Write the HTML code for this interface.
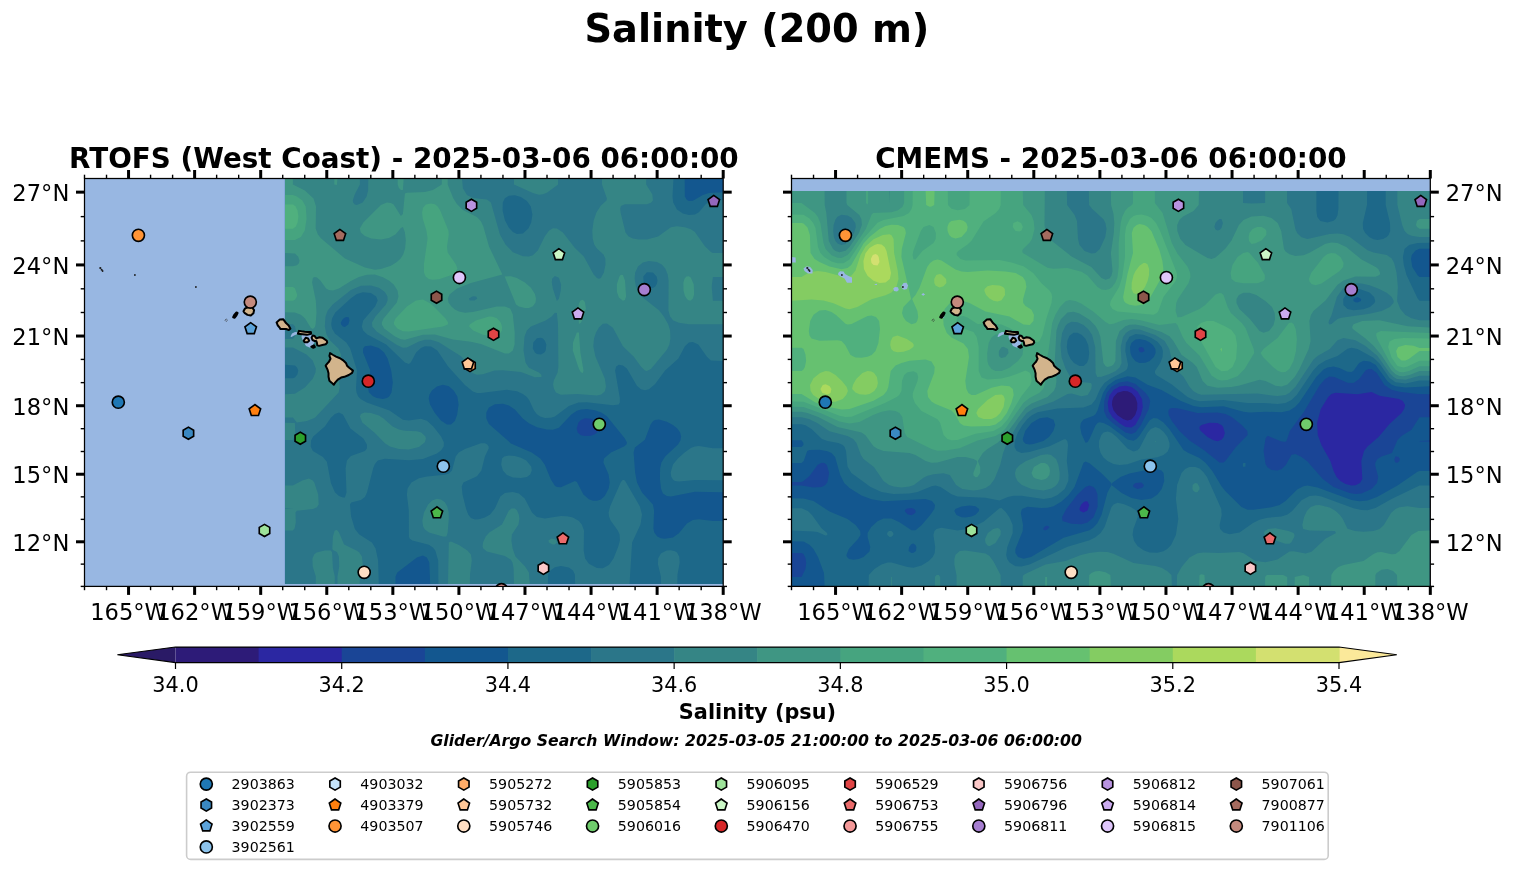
<!DOCTYPE html><html><head><meta charset="utf-8"><style>html,body{margin:0;padding:0;background:#fff;width:1514px;height:889px;overflow:hidden;position:relative}</style></head><body><svg width="1514" height="889" viewBox="0 0 1514 889" style="position:absolute;left:0;top:0;will-change:transform">
<rect x="0" y="0" width="1514" height="889" fill="#fff"/>
<text x="756.9" y="41.8" font-family="'DejaVu Sans', 'Liberation Sans', sans-serif" font-weight="bold" font-size="38.3" text-anchor="middle">Salinity (200 m)</text>
<text x="403.9" y="167.6" font-family="'DejaVu Sans', 'Liberation Sans', sans-serif" font-weight="bold" font-size="27.8" text-anchor="middle">RTOFS (West Coast) - 2025-03-06 06:00:00</text>
<text x="1110.9" y="167.6" font-family="'DejaVu Sans', 'Liberation Sans', sans-serif" font-weight="bold" font-size="27.8" text-anchor="middle">CMEMS - 2025-03-06 06:00:00</text>
<clipPath id="clipL"><rect x="84.5" y="178.5" width="638.7" height="407.9"/></clipPath>
<rect x="84.5" y="178.5" width="638.7" height="407.9" fill="#98b7e2"/>
<g clip-path="url(#clipL)"><clipPath id="dclipL"><rect x="284.92" y="178.50" width="438.28" height="405.45"/></clipPath><g clip-path="url(#dclipL)"><rect x="284.92" y="178.50" width="438.28" height="405.45" fill="#2a1a66"/>
<path fill="#2d1b78" fill-rule="evenodd" d="M284.9,178.5L722.9,178.5L722.9,584.5L284.9,584.5L284.9,178.5Z"/>
<path fill="#2b27a2" fill-rule="evenodd" d="M284.9,178.5L722.9,178.5L722.9,584.5L284.9,584.5L284.9,178.5Z"/>
<path fill="#1a4596" fill-rule="evenodd" d="M284.9,178.5L722.9,178.5L722.9,584.5L284.9,584.5L284.9,178.5Z"/>
<path fill="#13578f" fill-rule="evenodd" d="M284.9,178.5L722.9,178.5L722.9,584.5L284.9,584.5L284.9,178.5ZM584.9,418.2L580.9,419.9L578.5,422.5L576.7,428.5L577.7,432.5L580.9,435.2L584.9,436.1L590.9,435.7L594.9,434.3L597.1,432.5L598.6,428.5L596.9,423.1L594.4,420.5L590.9,418.7L584.9,418.2Z"/>
<path fill="#1d6889" fill-rule="evenodd" d="M284.9,178.5L684.7,178.5L684.8,196.5L686.9,200.1L688.9,201.1L692.9,200.8L702.9,195.1L708.9,192.9L722.9,192.2L722.9,492.3L694.9,491.7L670.9,496.5L666.9,496.1L662.9,493.4L661.0,488.5L659.9,478.5L660.1,468.5L661.4,462.5L665.2,456.5L678.0,444.5L680.4,440.5L681.1,436.5L680.1,432.5L677.3,428.5L672.9,424.9L666.9,421.7L658.9,419.5L654.9,420.0L652.9,421.3L650.6,424.5L644.9,439.8L634.9,447.5L633.6,452.5L635.1,472.5L637.0,482.5L642.0,492.5L652.9,504.5L654.1,510.5L653.4,528.5L654.3,532.5L657.2,536.5L660.9,538.3L664.9,538.8L672.9,537.5L678.9,533.3L686.9,523.5L692.9,520.0L698.9,519.3L712.9,521.1L722.9,521.1L722.9,584.5L430.2,584.5L429.3,562.5L426.9,557.4L422.9,555.4L416.9,557.4L397.3,572.5L395.5,576.5L395.5,584.5L284.9,584.5L284.9,178.5ZM344.9,317.6L342.9,318.9L340.8,322.5L341.1,324.5L342.9,326.5L344.9,326.9L348.3,324.5L349.5,320.5L348.9,317.4L346.9,316.9L344.9,317.6ZM364.9,346.3L363.1,348.5L363.0,352.5L370.3,370.5L367.7,386.5L368.9,392.2L372.9,396.3L376.9,398.1L382.9,399.0L386.9,398.1L389.2,396.5L391.5,392.5L392.8,382.5L391.2,370.5L387.6,358.5L384.1,352.5L378.9,347.9L370.9,345.4L364.9,346.3ZM436.9,386.4L431.9,390.5L429.5,394.5L428.7,398.5L430.0,404.5L434.5,412.5L440.9,420.4L446.9,424.5L450.9,424.6L454.9,420.9L457.2,414.5L458.6,404.5L457.4,396.5L453.7,390.5L448.9,386.3L442.9,384.7L436.9,386.4ZM494.9,404.2L488.9,407.6L486.3,412.5L486.3,418.5L488.9,423.9L510.9,443.4L531.7,452.5L540.3,458.5L544.7,464.5L550.9,479.4L554.9,485.8L556.9,487.1L560.9,487.3L574.9,481.1L576.9,481.9L583.4,494.5L588.9,499.3L592.9,500.7L596.9,500.8L600.9,499.4L604.9,495.7L608.7,488.5L609.7,482.5L608.6,474.5L603.4,462.5L604.0,458.5L610.9,452.6L624.0,446.5L626.5,444.5L626.9,442.5L624.9,438.5L606.9,416.2L601.3,412.5L594.9,410.3L586.9,409.1L580.9,409.4L576.9,410.7L571.3,414.5L558.9,427.8L552.9,429.7L546.9,429.6L536.9,427.2L528.9,423.3L522.8,418.5L514.9,409.6L508.9,405.5L502.9,403.8L494.9,404.2Z"/>
<path fill="#2b7689" fill-rule="evenodd" d="M284.9,178.5L673.5,178.5L672.5,196.5L673.2,202.5L676.9,209.5L682.9,213.6L688.9,215.1L694.9,214.4L698.9,212.3L705.4,204.5L710.9,200.5L722.9,200.1L722.9,361.1L710.9,360.5L706.9,356.8L698.3,344.5L692.9,341.9L688.9,342.5L684.9,346.3L678.4,358.5L665.1,370.5L654.9,384.3L648.9,389.2L644.9,390.2L640.9,389.2L636.9,385.7L626.9,368.5L622.9,365.6L618.9,364.8L616.2,366.5L615.1,370.5L619.9,398.5L619.8,402.5L618.7,404.5L612.9,405.3L586.9,402.3L578.4,402.5L568.9,406.0L554.9,416.4L550.9,417.8L544.9,418.0L540.2,416.5L536.9,414.2L534.0,410.5L529.4,400.5L526.9,397.1L522.9,394.0L516.9,391.3L506.9,389.7L480.9,393.1L476.9,393.0L472.9,391.6L464.9,384.9L448.1,366.5L437.3,350.5L431.1,346.5L424.9,346.2L420.9,347.9L416.1,352.5L410.9,362.2L408.9,363.9L404.9,362.6L386.2,344.5L367.3,334.5L363.1,330.5L361.8,326.5L363.2,320.5L375.1,306.5L377.7,300.5L376.2,296.5L370.9,293.1L362.9,292.3L356.9,294.1L350.9,298.3L335.3,312.5L332.0,318.5L331.2,324.5L332.0,328.5L334.9,333.6L346.3,342.5L350.2,348.5L357.0,370.5L356.0,388.5L356.5,392.5L358.2,396.5L360.9,399.2L366.7,402.5L389.5,410.5L402.9,419.8L408.9,420.4L420.9,418.8L426.9,420.7L433.3,426.5L441.1,436.5L443.9,442.5L443.7,446.5L441.0,450.5L436.9,453.4L422.9,459.1L408.9,460.3L384.9,458.8L377.8,460.5L374.9,464.0L373.1,468.5L367.0,492.5L364.9,497.0L360.9,500.1L351.2,502.5L350.0,504.5L351.1,516.5L354.9,529.1L359.3,534.5L371.9,542.5L375.6,548.5L378.1,560.5L378.8,584.5L284.9,584.5L284.9,378.2L292.9,378.2L294.9,377.4L297.4,374.5L298.3,370.5L296.9,367.3L294.9,365.4L284.9,364.7L284.9,178.5ZM508.9,195.7L504.9,198.2L502.8,202.5L502.6,210.5L504.9,220.3L508.9,227.7L512.9,231.9L516.9,233.9L522.9,233.4L528.4,228.5L531.2,222.5L532.4,214.5L530.8,206.5L526.9,201.0L520.9,197.1L514.9,195.3L508.9,195.7ZM536.9,338.2L533.3,342.5L532.8,348.5L534.9,352.6L536.9,354.0L540.9,354.6L544.4,352.5L545.7,350.5L546.3,344.5L544.9,340.7L542.9,338.6L540.9,337.8L536.9,338.2ZM646.9,272.3L643.3,276.5L643.6,282.5L646.9,287.1L650.9,288.4L652.9,288.0L655.3,286.5L656.9,283.8L657.5,280.5L656.6,276.5L652.9,272.6L646.9,272.3ZM334.9,413.9L330.9,417.8L324.8,426.5L313.2,436.5L311.1,440.5L310.7,446.5L312.9,450.9L322.9,457.1L326.9,461.7L330.9,483.1L334.9,492.2L338.9,496.1L342.9,497.6L344.9,497.5L346.5,492.5L345.6,468.5L346.9,460.5L350.9,456.1L364.9,451.1L366.9,448.5L366.9,444.5L363.4,438.5L350.4,428.5L342.9,414.4L338.9,412.6L334.9,413.9ZM477.5,444.5L480.9,443.3L484.9,443.3L487.3,444.5L488.6,446.5L488.7,448.5L484.9,456.6L481.4,470.5L476.9,476.3L463.4,482.5L461.7,486.5L462.5,494.5L466.0,508.5L468.2,514.5L470.9,518.0L474.9,519.5L478.9,519.2L484.9,517.4L490.1,514.5L494.9,508.6L500.3,496.5L504.9,492.9L512.9,491.9L518.9,493.5L524.7,498.5L532.0,512.5L536.9,517.1L544.9,518.5L560.9,516.1L566.9,516.2L572.9,517.6L578.9,521.1L581.8,524.5L584.0,530.5L583.7,550.5L585.1,558.5L588.9,563.7L596.9,567.9L602.9,568.3L608.9,564.9L613.5,558.5L618.3,546.5L619.9,540.5L619.6,534.5L617.8,530.5L610.6,520.5L609.0,516.5L608.6,512.5L610.1,506.5L620.9,482.0L622.9,479.8L624.9,480.5L639.9,506.5L642.0,514.5L640.5,524.5L632.1,542.5L629.5,584.5L575.1,584.5L574.9,574.5L573.0,570.5L568.9,567.4L560.9,566.0L554.9,567.2L550.4,570.5L548.1,574.5L547.9,584.5L438.4,584.5L438.2,560.5L435.3,550.5L432.9,547.5L428.9,544.7L412.3,540.5L409.6,538.5L408.9,536.5L408.8,510.5L406.9,494.5L407.6,488.5L411.4,482.5L418.9,478.3L426.9,476.5L444.9,474.7L448.9,473.4L452.0,470.5L455.7,456.5L458.7,452.5L464.9,449.0L477.5,444.5ZM694.7,446.5L698.9,446.0L712.9,448.3L722.9,448.3L722.9,480.3L694.9,480.0L678.9,481.6L674.9,480.9L672.9,479.5L671.2,476.5L670.7,472.5L673.0,464.5L677.9,458.5L684.9,452.2L690.9,447.9L694.7,446.5ZM504.2,456.5L508.9,455.5L514.9,455.9L520.9,457.7L526.3,460.5L531.2,466.5L531.8,470.5L530.2,474.5L526.9,477.0L520.9,478.1L512.9,477.4L506.9,475.0L502.9,470.5L501.2,464.5L502.0,458.5L504.2,456.5ZM666.6,550.5L670.9,550.2L674.9,551.2L677.0,552.5L679.2,556.5L679.7,562.5L677.5,574.5L677.3,584.5L660.9,584.5L660.9,576.5L658.0,564.5L658.1,558.5L660.9,553.4L666.6,550.5Z"/>
<path fill="#358585" fill-rule="evenodd" d="M284.9,178.5L359.9,178.5L359.9,184.5L354.7,194.5L352.8,200.5L353.1,202.5L354.8,204.5L356.9,205.0L362.7,202.5L366.6,196.5L368.1,190.5L368.3,178.5L462.0,178.5L462.9,188.3L466.9,194.9L472.9,198.1L486.9,199.6L490.9,202.6L499.9,234.5L505.5,244.5L512.9,252.2L522.9,256.2L528.9,256.4L532.9,255.3L537.8,250.5L544.9,236.3L548.9,230.7L552.9,228.3L556.9,228.4L562.9,232.6L574.9,247.9L583.8,256.5L593.7,274.5L596.9,278.0L598.9,278.7L600.9,278.1L603.9,272.5L605.5,264.5L605.3,258.5L603.5,254.5L596.9,248.5L594.2,244.5L592.7,238.5L592.3,230.5L593.7,220.5L596.4,212.5L600.9,205.5L606.5,200.5L606.9,198.5L602.0,184.5L602.0,178.5L646.2,178.5L646.2,184.5L652.4,194.5L652.9,200.5L650.9,202.8L646.9,204.3L624.9,204.3L620.9,206.1L620.2,208.5L620.6,212.5L625.5,232.5L628.7,236.5L632.8,238.5L638.9,239.6L646.9,239.5L658.1,236.5L670.9,227.2L676.9,226.2L684.9,227.2L690.9,229.2L694.9,231.9L704.9,246.3L710.9,252.0L712.9,253.0L722.9,253.0L722.9,276.9L712.9,276.9L711.7,286.5L712.9,300.7L722.9,300.7L722.9,324.3L688.9,324.2L678.9,322.8L673.3,320.5L670.1,316.5L668.4,310.5L668.6,280.5L667.7,274.5L665.3,268.5L661.8,264.5L656.9,261.9L648.9,260.9L642.9,262.5L638.0,266.5L635.2,272.5L634.6,278.5L635.9,286.5L640.9,295.9L659.2,310.5L663.8,316.5L668.3,324.5L670.1,330.5L670.4,338.5L669.4,344.5L666.9,349.8L650.9,369.0L646.9,371.1L644.9,370.6L640.9,366.6L633.6,356.5L622.9,346.3L612.9,327.8L606.9,323.5L602.9,323.8L598.9,327.4L596.0,332.5L594.0,338.5L593.3,346.5L595.4,356.5L604.8,378.5L606.0,386.5L604.9,391.3L601.3,394.5L596.9,395.4L576.9,394.1L560.9,394.8L555.9,392.5L553.9,388.5L553.1,384.5L553.8,380.5L557.6,372.5L558.4,366.5L558.0,324.5L556.9,312.9L554.9,312.8L551.6,316.5L545.6,320.5L530.9,326.6L526.9,330.4L524.5,336.5L523.5,350.5L525.5,362.5L528.9,367.8L538.9,372.5L541.2,374.5L541.7,376.5L540.9,377.1L534.9,377.3L520.9,371.9L502.9,370.3L494.5,370.5L482.9,374.3L476.9,374.7L472.9,373.3L469.5,370.5L464.5,360.5L461.4,356.5L438.9,342.2L430.9,339.8L424.9,339.8L418.9,341.5L406.9,347.4L402.9,347.7L396.9,345.0L376.9,331.8L372.3,326.5L372.0,322.5L375.5,316.5L385.9,304.5L387.6,300.5L387.5,296.5L384.9,292.0L378.9,287.7L370.9,285.4L360.9,285.7L350.9,290.1L332.7,304.5L327.7,310.5L325.5,316.5L324.8,326.5L326.5,334.5L330.1,340.5L338.4,348.5L341.0,354.5L340.9,361.4L337.5,372.5L339.8,386.5L338.7,392.5L314.9,417.8L306.9,421.1L296.9,422.5L292.9,417.4L284.9,417.4L284.9,394.2L294.9,393.8L304.9,387.6L312.9,378.5L315.5,372.5L315.8,368.5L312.7,360.5L306.5,354.5L292.9,347.6L284.9,347.6L284.9,339.1L292.9,339.1L294.9,336.4L295.8,330.5L295.1,326.5L292.9,324.3L284.9,324.3L284.9,178.5ZM472.9,296.3L468.9,298.5L469.8,300.5L474.5,300.5L477.3,298.5L476.1,296.5L472.9,296.3ZM554.9,276.1L552.2,278.5L551.8,282.5L552.9,288.7L556.9,301.0L558.9,298.7L560.8,290.5L561.1,284.5L558.9,277.8L554.9,276.1ZM514.0,178.5L558.1,178.5L558.1,184.5L546.9,192.7L542.9,194.3L538.9,194.7L532.9,192.9L514.0,184.5L514.0,178.5ZM364.5,412.5L370.9,413.0L378.9,415.6L383.5,418.5L392.6,426.5L398.9,429.6L404.9,430.8L416.9,431.3L421.3,432.5L425.4,436.5L425.9,438.5L424.9,442.3L418.9,446.9L408.9,449.4L398.9,449.1L390.0,446.5L384.9,443.2L374.9,432.9L362.3,422.5L359.9,416.5L360.9,414.1L364.5,412.5ZM284.9,424.5L284.9,422.8L294.9,423.0L295.3,434.5L292.9,440.0L284.9,440.0L284.9,424.5ZM302.3,480.5L308.9,478.6L312.8,480.5L314.3,482.5L318.2,494.5L318.7,504.5L316.9,507.3L312.9,509.1L296.9,510.7L295.5,512.5L295.8,522.5L294.6,528.5L292.9,530.6L284.9,530.6L284.9,509.0L293.1,508.5L284.9,508.3L284.9,485.6L292.9,485.6L302.3,480.5ZM432.1,500.5L436.9,498.8L440.9,499.4L444.9,502.3L447.3,506.5L448.7,512.5L448.8,518.5L447.7,532.5L446.4,536.5L442.9,536.6L429.0,532.5L424.9,529.6L423.1,526.5L422.3,520.5L424.0,512.5L428.1,504.5L432.1,500.5ZM511.5,508.5L514.9,508.5L516.9,510.2L518.8,514.5L519.4,518.5L518.5,524.5L511.9,534.5L511.4,540.5L512.6,548.5L515.4,556.5L524.9,566.3L528.9,572.4L529.8,584.5L514.0,584.5L513.6,568.5L512.5,562.5L510.9,559.7L504.9,556.1L486.9,551.4L483.3,548.5L482.6,546.5L483.0,542.5L485.7,536.5L489.3,532.5L502.0,524.5L508.9,510.5L511.5,508.5ZM334.7,530.5L336.9,530.0L338.9,532.3L344.1,544.5L356.9,550.7L359.3,552.5L361.9,556.5L362.8,564.5L360.0,574.5L359.7,584.5L337.5,584.5L337.5,576.5L339.2,566.5L338.9,556.5L336.9,552.0L332.9,550.1L332.3,548.5L332.9,536.5L334.7,530.5ZM551.5,538.5L554.9,539.2L556.5,540.5L556.9,542.5L554.9,544.4L552.5,544.5L548.9,542.5L548.4,540.5L551.5,538.5ZM448.8,542.5L450.9,541.4L458.9,545.0L467.4,550.5L470.9,554.5L471.8,560.5L470.0,574.5L469.9,584.5L448.0,584.5L448.8,542.5ZM324.9,550.5L330.9,550.6L332.1,552.5L332.9,567.9L334.8,576.5L334.8,584.5L315.8,584.5L315.8,576.5L312.7,566.5L312.4,558.5L314.2,554.5L316.6,552.5L324.9,550.5Z"/>
<path fill="#3f9683" fill-rule="evenodd" d="M284.9,178.5L292.9,178.5L292.9,184.5L304.9,190.5L313.5,198.5L316.0,206.5L315.7,228.5L317.9,234.5L320.9,238.2L344.9,258.5L364.9,267.6L374.9,269.8L380.9,269.1L390.9,265.7L396.9,262.1L400.6,258.5L403.2,254.5L405.1,248.5L405.8,240.5L404.9,232.3L402.9,227.0L400.9,228.1L395.4,234.5L388.9,238.1L380.9,239.6L371.3,238.5L364.9,236.1L360.8,232.5L359.8,228.5L363.3,222.5L380.9,205.1L386.9,202.6L390.9,202.9L393.6,204.5L400.9,216.1L402.9,213.9L404.9,193.5L406.9,192.7L424.9,191.9L432.9,190.0L441.8,184.5L441.8,178.5L447.7,178.5L447.7,184.5L453.4,198.5L456.9,204.1L462.9,210.1L476.9,217.1L480.9,221.2L483.3,226.5L489.0,246.5L502.4,274.5L470.9,283.1L457.0,288.5L449.5,294.5L447.8,298.5L448.5,302.5L451.4,306.5L454.9,309.4L458.9,311.4L464.9,312.7L472.9,312.1L496.9,306.4L504.9,306.6L510.2,308.5L512.8,314.5L514.7,332.5L514.6,344.5L512.8,350.5L508.9,353.4L504.9,353.4L480.9,344.1L470.9,341.7L452.9,339.5L434.9,334.6L422.9,334.8L404.9,339.7L400.9,339.2L395.0,336.5L384.2,328.5L381.9,324.5L381.8,322.5L383.6,318.5L396.8,302.5L398.5,296.5L397.5,290.5L393.7,284.5L388.9,280.6L382.9,277.2L374.9,274.6L366.9,274.8L358.9,277.1L350.9,280.9L338.9,288.5L332.9,290.5L328.9,290.1L326.1,288.5L320.4,280.5L316.9,277.4L314.9,276.9L312.9,277.8L312.1,282.5L315.8,300.5L316.5,312.5L315.6,324.5L314.9,327.1L312.9,329.1L310.9,328.0L305.1,318.5L300.9,314.8L294.9,312.6L284.9,312.3L284.9,266.3L292.9,266.3L296.9,265.3L298.9,263.3L299.5,260.5L298.1,256.5L294.9,253.6L284.9,253.0L284.9,178.5ZM334.3,178.5L337.5,178.5L336.9,185.1L334.3,184.5L334.3,178.5ZM397.7,178.5L403.7,178.5L402.9,190.1L400.9,189.9L398.9,187.9L397.7,184.5L397.7,178.5ZM504.6,276.5L510.9,276.2L516.9,278.0L524.9,282.4L530.9,287.7L534.9,294.0L536.0,298.5L535.5,302.5L532.9,306.3L528.9,307.9L524.9,308.0L518.9,306.5L516.0,304.5L504.6,276.5ZM619.4,276.5L620.9,274.7L622.9,274.9L625.0,280.5L626.1,296.5L624.9,300.1L622.9,300.7L618.9,297.4L616.9,291.8L616.9,284.0L619.4,276.5ZM686.4,276.5L688.9,276.2L690.9,277.7L693.8,284.5L694.1,294.5L692.9,298.5L690.9,300.5L688.9,300.5L686.9,299.0L684.9,295.7L683.5,290.5L683.4,282.5L684.6,278.5L686.4,276.5ZM580.4,300.5L582.9,299.7L584.9,301.9L585.9,308.5L582.9,318.7L580.9,322.8L578.9,324.1L578.2,308.5L578.9,303.4L580.4,300.5ZM576.8,332.5L578.9,332.5L580.4,352.5L583.5,370.5L582.9,373.0L580.9,372.2L578.9,368.8L572.8,350.5L573.0,342.5L576.8,332.5Z"/>
<path fill="#46a47f" fill-rule="evenodd" d="M284.9,196.5L284.9,195.1L292.9,195.1L296.9,196.4L302.4,200.5L305.7,206.5L306.6,218.5L304.8,230.5L300.9,237.1L294.9,239.9L284.9,240.1L284.9,196.5ZM425.8,204.5L430.9,203.5L434.9,204.3L437.7,206.5L440.2,210.5L448.4,230.5L448.8,234.5L447.0,246.5L447.7,252.5L455.9,264.5L457.4,268.5L455.7,272.5L453.1,274.5L438.9,279.3L432.9,279.8L428.9,279.0L425.6,276.5L424.0,272.5L423.9,264.5L427.6,238.5L426.4,230.5L422.7,218.5L422.1,212.5L422.9,208.1L425.8,204.5ZM284.9,288.5L284.9,287.0L292.9,287.0L294.9,288.3L297.1,294.5L296.9,296.8L294.9,299.8L292.9,300.7L284.9,300.7L284.9,288.5ZM416.0,300.5L422.9,299.6L430.9,303.8L445.5,318.5L448.1,322.5L447.8,324.5L442.8,326.5L408.9,331.5L402.9,331.3L397.3,328.5L394.1,324.5L393.8,322.5L395.5,318.5L406.9,306.5L416.0,300.5ZM489.0,316.5L492.9,316.7L496.9,318.3L500.7,322.5L502.0,326.5L501.9,330.5L498.9,335.2L492.9,336.6L482.9,334.8L473.2,330.5L469.1,326.5L469.7,324.5L475.8,320.5L489.0,316.5Z"/>
<path fill="#50b07e" fill-rule="evenodd" d="M284.9,204.5L293.1,204.5L295.6,206.5L297.5,210.5L298.4,216.5L297.6,222.5L295.8,226.5L292.9,228.8L284.9,228.8L284.9,204.5Z"/></g></g>
<g clip-path="url(#clipL)"><polygon points="290.5,336.5 292.0,333.5 295.0,332.0 298.0,332.2 297.5,334.0 294.0,335.5 291.5,337.0" fill="#98b7e2"/>
<polygon points="302.0,334.0 306.0,333.0 312.0,334.5 314.5,337.0 315.0,341.0 313.0,345.0 310.0,347.8 306.0,346.0 303.0,341.0 301.5,337.0" fill="#98b7e2"/>
<polygon points="330.07,353.11 332.71,354.75 336.02,356.61 339.98,358.24 342.84,360.11 345.93,362.90 347.03,365.70 349.23,367.79 352.97,370.58 352.09,372.90 348.79,374.99 344.38,376.84 341.08,377.54 337.78,379.62 335.13,382.64 333.81,384.72 331.61,382.64 329.41,380.78 328.53,376.84 328.53,373.36 327.65,369.88 325.66,365.70 327.21,363.60 328.97,361.74 330.51,358.71 329.41,355.91" fill="#d2b48c" stroke="#000" stroke-width="2.0" stroke-linejoin="round"/>
<polygon points="311.57,337.68 312.67,335.57 314.65,336.04 316.41,338.38 319.50,337.21 322.36,337.68 326.77,340.72 327.21,342.60 325.66,344.23 322.36,344.94 319.06,345.87 317.30,345.40 316.85,342.36 316.19,340.96 314.65,340.96 312.45,340.02" fill="#d2b48c" stroke="#000" stroke-width="2.0" stroke-linejoin="round"/>
<polygon points="311.35,346.57 313.99,345.40 314.87,347.04 313.11,347.74" fill="#d2b48c" stroke="#000" stroke-width="2.0" stroke-linejoin="round"/>
<polygon points="303.64,340.72 305.84,337.68 308.05,338.38 309.15,340.72 307.38,342.36 304.74,342.36" fill="#d2b48c" stroke="#000" stroke-width="2.0" stroke-linejoin="round"/>
<polygon points="297.91,333.69 299.02,330.87 301.44,331.34 304.74,331.81 307.38,332.05 310.91,332.05 311.13,333.69 306.94,334.86 302.54,334.16" fill="#d2b48c" stroke="#000" stroke-width="2.0" stroke-linejoin="round"/>
<polygon points="276.55,322.41 279.85,319.58 283.38,319.35 286.02,323.11 288.66,325.47 290.43,328.76 288.88,329.93 286.02,328.99 282.72,328.99 280.29,328.99 279.85,327.82 277.65,325.23" fill="#d2b48c" stroke="#000" stroke-width="2.0" stroke-linejoin="round"/>
<polygon points="243.51,311.32 244.84,308.72 247.92,307.07 251.88,307.07 254.09,310.14 253.43,313.21 250.78,315.57 247.48,314.86 244.84,313.21" fill="#d2b48c" stroke="#000" stroke-width="2.0" stroke-linejoin="round"/>
<polygon points="233.16,317.22 234.26,314.86 236.47,312.50 237.57,312.98 236.47,315.34 234.70,317.70" fill="#d2b48c" stroke="#000" stroke-width="2.0" stroke-linejoin="round"/>
<circle cx="100.30" cy="268.00" r="1.1" fill="#1a1a1a"/>
<circle cx="101.60" cy="269.80" r="1.0" fill="#1a1a1a"/>
<circle cx="102.60" cy="271.00" r="0.9" fill="#1a1a1a"/>
<circle cx="134.90" cy="275.00" r="0.9" fill="#1a1a1a"/>
<circle cx="195.90" cy="287.00" r="0.9" fill="#1a1a1a"/>
<path d="M226.2,318.9l1.3,1.3l-1.3,1.3l-1.3,-1.3z" fill="none" stroke="#333" stroke-width="0.6"/></g>
<g clip-path="url(#clipL)"><circle cx="118.30" cy="402.20" r="6.05" fill="#1f77b4" stroke="#000" stroke-width="1.65"/>
<polygon points="188.40,427.15 183.16,430.18 183.16,436.22 188.40,439.25 193.64,436.22 193.64,430.18" fill="#3a88c2" stroke="#000" stroke-width="1.65" stroke-linejoin="miter"/>
<polygon points="250.70,322.65 244.95,326.83 247.14,333.59 254.26,333.59 256.45,326.83" fill="#5ca3da" stroke="#000" stroke-width="1.65" stroke-linejoin="miter"/>
<circle cx="443.30" cy="466.20" r="6.05" fill="#8cc3ec" stroke="#000" stroke-width="1.65"/>
<polygon points="254.90,404.55 249.15,408.73 251.34,415.49 258.46,415.49 260.65,408.73" fill="#ff7f0e" stroke="#000" stroke-width="1.65" stroke-linejoin="miter"/>
<circle cx="138.40" cy="235.30" r="6.05" fill="#ff9436" stroke="#000" stroke-width="1.65"/>
<polygon points="470.00,359.55 464.76,362.58 464.76,368.62 470.00,371.65 475.24,368.62 475.24,362.58" fill="#ffac68" stroke="#000" stroke-width="1.65" stroke-linejoin="miter"/>
<polygon points="467.90,357.95 462.15,362.13 464.34,368.89 471.46,368.89 473.65,362.13" fill="#ffc797" stroke="#000" stroke-width="1.65" stroke-linejoin="miter"/>
<circle cx="364.20" cy="572.30" r="6.05" fill="#ffdfc4" stroke="#000" stroke-width="1.65"/>
<polygon points="300.30,432.15 295.06,435.18 295.06,441.22 300.30,444.25 305.54,441.22 305.54,435.18" fill="#2ca02c" stroke="#000" stroke-width="1.65" stroke-linejoin="miter"/>
<polygon points="436.90,506.85 431.15,511.03 433.34,517.79 440.46,517.79 442.65,511.03" fill="#4cb84a" stroke="#000" stroke-width="1.65" stroke-linejoin="miter"/>
<circle cx="599.30" cy="424.30" r="6.05" fill="#6fcc6c" stroke="#000" stroke-width="1.65"/>
<polygon points="264.50,524.35 259.26,527.38 259.26,533.42 264.50,536.45 269.74,533.42 269.74,527.38" fill="#9ee39a" stroke="#000" stroke-width="1.65" stroke-linejoin="miter"/>
<polygon points="558.90,248.65 553.15,252.83 555.34,259.59 562.46,259.59 564.65,252.83" fill="#cbf7c6" stroke="#000" stroke-width="1.65" stroke-linejoin="miter"/>
<circle cx="368.30" cy="381.20" r="6.05" fill="#d62728" stroke="#000" stroke-width="1.65"/>
<polygon points="493.50,328.25 488.26,331.28 488.26,337.32 493.50,340.35 498.74,337.32 498.74,331.28" fill="#e04445" stroke="#000" stroke-width="1.65" stroke-linejoin="miter"/>
<polygon points="562.90,532.85 557.15,537.03 559.34,543.79 566.46,543.79 568.65,537.03" fill="#ea6b6b" stroke="#000" stroke-width="1.65" stroke-linejoin="miter"/>
<circle cx="501.50" cy="589.70" r="6.05" fill="#f39898" stroke="#000" stroke-width="1.65"/>
<polygon points="543.40,562.25 538.16,565.27 538.16,571.32 543.40,574.35 548.64,571.32 548.64,565.27" fill="#fbc8c8" stroke="#000" stroke-width="1.65" stroke-linejoin="miter"/>
<polygon points="713.80,195.45 708.05,199.63 710.24,206.39 717.36,206.39 719.55,199.63" fill="#9467bd" stroke="#000" stroke-width="1.65" stroke-linejoin="miter"/>
<circle cx="644.30" cy="289.60" r="6.05" fill="#a67ed0" stroke="#000" stroke-width="1.65"/>
<polygon points="471.40,199.25 466.16,202.28 466.16,208.33 471.40,211.35 476.64,208.33 476.64,202.28" fill="#b893e0" stroke="#000" stroke-width="1.65" stroke-linejoin="miter"/>
<polygon points="578.00,307.95 572.25,312.13 574.44,318.89 581.56,318.89 583.75,312.13" fill="#cbabef" stroke="#000" stroke-width="1.65" stroke-linejoin="miter"/>
<circle cx="459.40" cy="277.50" r="6.05" fill="#dfc6fb" stroke="#000" stroke-width="1.65"/>
<polygon points="436.50,291.15 431.26,294.18 431.26,300.22 436.50,303.25 441.74,300.22 441.74,294.18" fill="#8c564b" stroke="#000" stroke-width="1.65" stroke-linejoin="miter"/>
<polygon points="339.90,229.45 334.15,233.63 336.34,240.39 343.46,240.39 345.65,233.63" fill="#a56b5f" stroke="#000" stroke-width="1.65" stroke-linejoin="miter"/>
<circle cx="250.30" cy="302.10" r="6.05" fill="#c48a7e" stroke="#000" stroke-width="1.65"/></g>
<rect x="84.5" y="178.5" width="638.7" height="407.9" fill="none" stroke="#000" stroke-width="1.25"/>
<g stroke="#000"><line x1="84.50" y1="178.5" x2="84.50" y2="174.7" stroke-width="1.4"/><line x1="84.50" y1="586.4" x2="84.50" y2="590.1999999999999" stroke-width="1.4"/><line x1="106.52" y1="178.5" x2="106.52" y2="174.7" stroke-width="1.4"/><line x1="106.52" y1="586.4" x2="106.52" y2="590.1999999999999" stroke-width="1.4"/><line x1="128.55" y1="178.5" x2="128.55" y2="170.0" stroke-width="3.0"/><line x1="128.55" y1="586.4" x2="128.55" y2="594.9" stroke-width="3.0"/><line x1="150.57" y1="178.5" x2="150.57" y2="174.7" stroke-width="1.4"/><line x1="150.57" y1="586.4" x2="150.57" y2="590.1999999999999" stroke-width="1.4"/><line x1="172.60" y1="178.5" x2="172.60" y2="174.7" stroke-width="1.4"/><line x1="172.60" y1="586.4" x2="172.60" y2="590.1999999999999" stroke-width="1.4"/><line x1="194.62" y1="178.5" x2="194.62" y2="170.0" stroke-width="3.0"/><line x1="194.62" y1="586.4" x2="194.62" y2="594.9" stroke-width="3.0"/><line x1="216.64" y1="178.5" x2="216.64" y2="174.7" stroke-width="1.4"/><line x1="216.64" y1="586.4" x2="216.64" y2="590.1999999999999" stroke-width="1.4"/><line x1="238.67" y1="178.5" x2="238.67" y2="174.7" stroke-width="1.4"/><line x1="238.67" y1="586.4" x2="238.67" y2="590.1999999999999" stroke-width="1.4"/><line x1="260.69" y1="178.5" x2="260.69" y2="170.0" stroke-width="3.0"/><line x1="260.69" y1="586.4" x2="260.69" y2="594.9" stroke-width="3.0"/><line x1="282.72" y1="178.5" x2="282.72" y2="174.7" stroke-width="1.4"/><line x1="282.72" y1="586.4" x2="282.72" y2="590.1999999999999" stroke-width="1.4"/><line x1="304.74" y1="178.5" x2="304.74" y2="174.7" stroke-width="1.4"/><line x1="304.74" y1="586.4" x2="304.74" y2="590.1999999999999" stroke-width="1.4"/><line x1="326.77" y1="178.5" x2="326.77" y2="170.0" stroke-width="3.0"/><line x1="326.77" y1="586.4" x2="326.77" y2="594.9" stroke-width="3.0"/><line x1="348.79" y1="178.5" x2="348.79" y2="174.7" stroke-width="1.4"/><line x1="348.79" y1="586.4" x2="348.79" y2="590.1999999999999" stroke-width="1.4"/><line x1="370.81" y1="178.5" x2="370.81" y2="174.7" stroke-width="1.4"/><line x1="370.81" y1="586.4" x2="370.81" y2="590.1999999999999" stroke-width="1.4"/><line x1="392.84" y1="178.5" x2="392.84" y2="170.0" stroke-width="3.0"/><line x1="392.84" y1="586.4" x2="392.84" y2="594.9" stroke-width="3.0"/><line x1="414.86" y1="178.5" x2="414.86" y2="174.7" stroke-width="1.4"/><line x1="414.86" y1="586.4" x2="414.86" y2="590.1999999999999" stroke-width="1.4"/><line x1="436.89" y1="178.5" x2="436.89" y2="174.7" stroke-width="1.4"/><line x1="436.89" y1="586.4" x2="436.89" y2="590.1999999999999" stroke-width="1.4"/><line x1="458.91" y1="178.5" x2="458.91" y2="170.0" stroke-width="3.0"/><line x1="458.91" y1="586.4" x2="458.91" y2="594.9" stroke-width="3.0"/><line x1="480.93" y1="178.5" x2="480.93" y2="174.7" stroke-width="1.4"/><line x1="480.93" y1="586.4" x2="480.93" y2="590.1999999999999" stroke-width="1.4"/><line x1="502.96" y1="178.5" x2="502.96" y2="174.7" stroke-width="1.4"/><line x1="502.96" y1="586.4" x2="502.96" y2="590.1999999999999" stroke-width="1.4"/><line x1="524.98" y1="178.5" x2="524.98" y2="170.0" stroke-width="3.0"/><line x1="524.98" y1="586.4" x2="524.98" y2="594.9" stroke-width="3.0"/><line x1="547.01" y1="178.5" x2="547.01" y2="174.7" stroke-width="1.4"/><line x1="547.01" y1="586.4" x2="547.01" y2="590.1999999999999" stroke-width="1.4"/><line x1="569.03" y1="178.5" x2="569.03" y2="174.7" stroke-width="1.4"/><line x1="569.03" y1="586.4" x2="569.03" y2="590.1999999999999" stroke-width="1.4"/><line x1="591.06" y1="178.5" x2="591.06" y2="170.0" stroke-width="3.0"/><line x1="591.06" y1="586.4" x2="591.06" y2="594.9" stroke-width="3.0"/><line x1="613.08" y1="178.5" x2="613.08" y2="174.7" stroke-width="1.4"/><line x1="613.08" y1="586.4" x2="613.08" y2="590.1999999999999" stroke-width="1.4"/><line x1="635.10" y1="178.5" x2="635.10" y2="174.7" stroke-width="1.4"/><line x1="635.10" y1="586.4" x2="635.10" y2="590.1999999999999" stroke-width="1.4"/><line x1="657.13" y1="178.5" x2="657.13" y2="170.0" stroke-width="3.0"/><line x1="657.13" y1="586.4" x2="657.13" y2="594.9" stroke-width="3.0"/><line x1="679.15" y1="178.5" x2="679.15" y2="174.7" stroke-width="1.4"/><line x1="679.15" y1="586.4" x2="679.15" y2="590.1999999999999" stroke-width="1.4"/><line x1="701.18" y1="178.5" x2="701.18" y2="174.7" stroke-width="1.4"/><line x1="701.18" y1="586.4" x2="701.18" y2="590.1999999999999" stroke-width="1.4"/><line x1="723.20" y1="178.5" x2="723.20" y2="170.0" stroke-width="3.0"/><line x1="723.20" y1="586.4" x2="723.20" y2="594.9" stroke-width="3.0"/><line x1="84.5" y1="586.40" x2="80.7" y2="586.40" stroke-width="1.4"/><line x1="723.2" y1="586.40" x2="727.0" y2="586.40" stroke-width="1.4"/><line x1="84.5" y1="564.13" x2="80.7" y2="564.13" stroke-width="1.4"/><line x1="723.2" y1="564.13" x2="727.0" y2="564.13" stroke-width="1.4"/><line x1="84.5" y1="541.79" x2="76.0" y2="541.79" stroke-width="3.0"/><line x1="723.2" y1="541.79" x2="731.7" y2="541.79" stroke-width="3.0"/><line x1="84.5" y1="519.37" x2="80.7" y2="519.37" stroke-width="1.4"/><line x1="723.2" y1="519.37" x2="727.0" y2="519.37" stroke-width="1.4"/><line x1="84.5" y1="496.85" x2="80.7" y2="496.85" stroke-width="1.4"/><line x1="723.2" y1="496.85" x2="727.0" y2="496.85" stroke-width="1.4"/><line x1="84.5" y1="474.23" x2="76.0" y2="474.23" stroke-width="3.0"/><line x1="723.2" y1="474.23" x2="731.7" y2="474.23" stroke-width="3.0"/><line x1="84.5" y1="451.51" x2="80.7" y2="451.51" stroke-width="1.4"/><line x1="723.2" y1="451.51" x2="727.0" y2="451.51" stroke-width="1.4"/><line x1="84.5" y1="428.68" x2="80.7" y2="428.68" stroke-width="1.4"/><line x1="723.2" y1="428.68" x2="727.0" y2="428.68" stroke-width="1.4"/><line x1="84.5" y1="405.72" x2="76.0" y2="405.72" stroke-width="3.0"/><line x1="723.2" y1="405.72" x2="731.7" y2="405.72" stroke-width="3.0"/><line x1="84.5" y1="382.64" x2="80.7" y2="382.64" stroke-width="1.4"/><line x1="723.2" y1="382.64" x2="727.0" y2="382.64" stroke-width="1.4"/><line x1="84.5" y1="359.41" x2="80.7" y2="359.41" stroke-width="1.4"/><line x1="723.2" y1="359.41" x2="727.0" y2="359.41" stroke-width="1.4"/><line x1="84.5" y1="336.04" x2="76.0" y2="336.04" stroke-width="3.0"/><line x1="723.2" y1="336.04" x2="731.7" y2="336.04" stroke-width="3.0"/><line x1="84.5" y1="312.50" x2="80.7" y2="312.50" stroke-width="1.4"/><line x1="723.2" y1="312.50" x2="727.0" y2="312.50" stroke-width="1.4"/><line x1="84.5" y1="288.81" x2="80.7" y2="288.81" stroke-width="1.4"/><line x1="723.2" y1="288.81" x2="727.0" y2="288.81" stroke-width="1.4"/><line x1="84.5" y1="264.93" x2="76.0" y2="264.93" stroke-width="3.0"/><line x1="723.2" y1="264.93" x2="731.7" y2="264.93" stroke-width="3.0"/><line x1="84.5" y1="240.87" x2="80.7" y2="240.87" stroke-width="1.4"/><line x1="723.2" y1="240.87" x2="727.0" y2="240.87" stroke-width="1.4"/><line x1="84.5" y1="216.61" x2="80.7" y2="216.61" stroke-width="1.4"/><line x1="723.2" y1="216.61" x2="727.0" y2="216.61" stroke-width="1.4"/><line x1="84.5" y1="192.15" x2="76.0" y2="192.15" stroke-width="3.0"/><line x1="723.2" y1="192.15" x2="731.7" y2="192.15" stroke-width="3.0"/></g>
<g font-family="'DejaVu Sans', 'Liberation Sans', sans-serif" font-size="22.6"><text x="128.55" y="620.3" text-anchor="middle">165°W</text><text x="194.62" y="620.3" text-anchor="middle">162°W</text><text x="260.69" y="620.3" text-anchor="middle">159°W</text><text x="326.77" y="620.3" text-anchor="middle">156°W</text><text x="392.84" y="620.3" text-anchor="middle">153°W</text><text x="458.91" y="620.3" text-anchor="middle">150°W</text><text x="524.98" y="620.3" text-anchor="middle">147°W</text><text x="591.06" y="620.3" text-anchor="middle">144°W</text><text x="657.13" y="620.3" text-anchor="middle">141°W</text><text x="723.20" y="620.3" text-anchor="middle">138°W</text><text x="69.3" y="550.94" text-anchor="end">12°N</text><text x="69.3" y="483.38" text-anchor="end">15°N</text><text x="69.3" y="414.87" text-anchor="end">18°N</text><text x="69.3" y="345.19" text-anchor="end">21°N</text><text x="69.3" y="274.08" text-anchor="end">24°N</text><text x="69.3" y="201.30" text-anchor="end">27°N</text></g>
<clipPath id="clipR"><rect x="791.5" y="178.5" width="638.8" height="407.9"/></clipPath>
<rect x="791.5" y="178.5" width="638.8" height="407.9" fill="#98b7e2"/>
<g clip-path="url(#clipR)"><clipPath id="dclipR"><rect x="791.50" y="190.92" width="638.80" height="395.48"/></clipPath><g clip-path="url(#dclipR)"><rect x="791.50" y="190.92" width="638.80" height="395.48" fill="#2a1a66"/>
<path fill="#2d1b78" fill-rule="evenodd" d="M791.5,190.9L1429.5,190.9L1429.5,586.9L791.5,586.9L791.5,190.9Z"/>
<path fill="#2b27a2" fill-rule="evenodd" d="M791.5,190.9L1429.5,190.9L1429.5,586.9L791.5,586.9L791.5,190.9ZM1117.5,392.8L1113.6,396.9L1112.2,400.9L1112.0,404.9L1113.5,410.3L1117.5,415.3L1123.5,419.3L1127.5,420.5L1131.5,419.5L1135.2,414.9L1137.2,408.9L1137.3,402.9L1135.5,397.6L1131.5,393.1L1127.5,391.3L1123.5,391.0L1117.5,392.8Z"/>
<path fill="#1a4596" fill-rule="evenodd" d="M791.5,190.9L1429.5,190.9L1429.5,586.9L791.5,586.9L791.5,190.9ZM1083.5,502.2L1080.9,504.9L1079.4,508.9L1080.2,510.9L1083.5,512.5L1087.5,510.4L1089.2,504.9L1087.5,501.5L1085.5,501.2L1083.5,502.2ZM1119.5,386.6L1113.5,390.0L1109.5,395.5L1107.7,402.9L1108.7,410.9L1112.3,416.9L1119.5,423.2L1125.5,426.9L1131.5,427.6L1135.5,424.7L1140.8,414.9L1142.8,406.9L1142.0,398.9L1137.5,391.5L1131.5,387.1L1125.5,385.7L1119.5,386.6ZM1209.5,422.8L1201.5,424.9L1199.5,426.7L1199.5,428.9L1200.8,430.9L1207.5,436.9L1213.5,440.3L1217.5,441.2L1221.5,439.7L1223.7,436.9L1224.8,432.9L1223.2,426.9L1221.4,424.9L1217.5,423.0L1209.5,422.8ZM1335.5,392.7L1331.5,394.0L1328.2,396.9L1320.8,408.9L1317.1,422.9L1317.8,434.9L1321.4,444.9L1330.4,460.9L1333.6,470.9L1336.6,476.9L1340.4,480.9L1345.5,483.9L1351.5,485.5L1355.5,485.2L1360.0,482.9L1362.3,478.9L1361.3,460.9L1364.0,450.9L1367.5,446.4L1378.5,436.9L1389.5,424.1L1401.5,413.0L1404.2,408.9L1405.1,404.9L1402.8,400.9L1399.1,398.9L1379.5,395.7L1371.5,392.0L1357.5,394.3L1335.5,392.7Z"/>
<path fill="#13578f" fill-rule="evenodd" d="M791.5,190.9L1429.5,190.9L1429.5,394.3L1417.5,394.0L1399.5,391.8L1391.5,389.8L1384.4,384.9L1376.8,372.9L1371.5,368.9L1368.5,368.9L1365.5,370.5L1359.2,378.9L1353.5,382.9L1347.5,382.8L1334.3,376.9L1329.5,376.6L1325.1,378.9L1319.5,385.4L1303.5,412.5L1289.8,430.9L1286.5,440.9L1285.5,441.8L1281.5,441.4L1267.5,435.8L1265.5,438.4L1263.6,450.9L1265.5,463.9L1267.5,467.2L1271.5,469.9L1277.5,470.5L1281.6,468.9L1285.8,464.9L1291.5,454.8L1295.5,454.1L1301.5,457.1L1307.5,461.4L1322.8,478.9L1333.5,486.9L1349.5,493.1L1355.5,493.9L1361.5,493.4L1371.5,489.1L1377.0,482.9L1378.2,476.9L1375.1,464.9L1375.5,462.2L1377.5,459.0L1381.5,456.5L1391.9,452.9L1397.5,439.9L1401.5,436.1L1411.5,429.8L1419.5,417.3L1429.5,417.3L1429.5,440.5L1419.4,440.9L1419.5,441.6L1429.5,441.6L1429.5,586.9L791.5,586.9L791.5,576.9L801.5,576.9L805.4,568.9L806.2,562.9L805.5,557.9L803.5,554.1L801.5,553.0L791.5,553.0L791.5,485.4L801.5,485.4L813.5,487.4L821.5,487.0L825.3,484.9L827.5,481.9L829.1,472.9L826.9,464.9L824.3,462.9L821.5,462.7L817.5,465.1L809.5,475.9L803.5,481.1L801.5,481.9L791.5,481.9L791.5,190.9ZM907.5,508.4L906.0,508.9L904.7,510.9L907.5,514.3L911.5,515.3L915.3,512.9L915.7,510.9L914.3,508.9L911.5,508.1L907.5,508.4ZM1045.5,526.1L1043.5,527.9L1043.5,529.9L1045.5,530.3L1047.5,529.3L1049.6,526.9L1047.5,525.7L1045.5,526.1ZM1085.5,486.9L1077.5,494.6L1066.3,508.9L1062.1,516.9L1062.5,520.9L1071.5,523.8L1081.5,524.2L1087.5,522.5L1093.5,517.2L1097.6,506.9L1097.5,494.4L1095.5,489.3L1093.3,486.9L1089.5,485.5L1085.5,486.9ZM1119.5,382.4L1111.5,386.8L1106.8,392.9L1104.3,400.9L1104.0,410.9L1106.5,416.9L1112.7,422.9L1125.5,432.5L1131.5,434.1L1135.5,432.2L1140.9,424.9L1148.8,408.9L1150.2,400.9L1148.6,396.9L1145.7,392.9L1135.5,383.9L1127.5,381.2L1119.5,382.4ZM1139.5,347.4L1138.4,348.9L1139.5,351.8L1141.5,352.6L1144.6,350.9L1143.5,348.0L1141.5,347.0L1139.5,347.4ZM1171.5,408.1L1169.5,409.0L1168.3,410.9L1168.7,414.9L1171.8,420.9L1179.5,431.0L1189.5,440.4L1203.5,449.7L1219.5,462.4L1223.5,462.4L1225.5,460.7L1235.5,447.6L1247.7,434.9L1247.3,430.9L1241.7,424.9L1231.7,416.9L1225.5,414.0L1217.5,412.6L1197.5,413.1L1177.5,408.2L1171.5,408.1ZM1395.5,456.3L1394.4,458.9L1394.6,460.9L1395.5,462.4L1397.5,462.7L1399.4,460.9L1399.8,458.9L1398.6,456.9L1395.5,456.3ZM1135.5,482.9L1133.1,484.9L1133.4,486.9L1137.5,488.9L1141.5,488.0L1143.1,486.9L1143.9,484.9L1141.5,482.6L1135.5,482.9Z"/>
<path fill="#1d6889" fill-rule="evenodd" d="M791.5,190.9L1429.5,190.9L1429.5,248.8L1419.5,248.8L1415.5,250.5L1411.8,254.9L1411.0,258.9L1412.3,266.9L1417.5,275.3L1419.5,276.9L1429.5,276.9L1429.5,386.2L1405.5,387.6L1395.5,386.3L1391.5,384.5L1387.5,381.2L1375.5,364.7L1369.5,361.4L1363.5,360.8L1359.1,362.9L1353.5,370.8L1351.5,371.9L1347.5,371.8L1339.5,367.9L1333.5,366.6L1327.5,367.5L1323.5,369.5L1316.2,376.9L1299.5,402.2L1295.0,406.9L1289.5,410.5L1281.5,412.3L1265.5,411.7L1249.5,412.5L1243.5,411.8L1223.5,406.2L1201.5,407.2L1193.5,405.9L1181.0,400.9L1161.5,390.1L1147.5,384.8L1135.5,377.5L1127.5,376.3L1115.5,380.1L1107.5,385.7L1103.0,392.9L1097.5,410.4L1095.5,414.2L1093.5,415.8L1083.5,419.6L1080.8,422.9L1080.2,426.9L1081.5,434.1L1085.5,442.8L1087.5,442.3L1089.5,438.9L1095.5,425.4L1097.5,423.0L1099.5,422.2L1103.5,423.0L1109.5,425.9L1127.5,439.6L1133.5,440.7L1136.6,438.9L1139.5,435.7L1149.5,420.6L1153.5,418.1L1157.5,418.4L1163.5,422.6L1169.3,428.9L1183.5,450.0L1187.5,452.6L1199.5,457.9L1205.5,462.7L1212.3,470.9L1221.5,486.2L1225.5,491.2L1241.5,507.0L1247.5,509.7L1253.5,509.7L1271.5,507.2L1279.5,505.0L1285.5,500.9L1297.5,489.2L1303.5,486.2L1307.5,485.5L1317.5,487.5L1351.5,500.1L1359.5,501.2L1367.5,500.5L1377.0,496.9L1397.5,485.4L1417.5,471.8L1419.5,471.0L1429.5,471.0L1429.5,586.9L824.6,586.9L824.0,572.9L818.0,556.9L813.5,548.9L809.5,544.8L803.5,541.5L791.5,541.2L791.5,498.3L803.5,498.5L813.5,501.1L829.5,511.5L847.5,519.1L855.6,524.9L860.2,530.9L860.5,534.9L858.0,538.9L848.8,548.9L846.4,554.9L847.0,556.9L849.0,558.9L853.5,559.8L858.8,558.9L863.5,556.9L869.5,551.5L870.3,546.9L867.6,536.9L867.6,532.9L871.2,526.9L877.5,521.2L883.5,518.5L891.5,518.6L899.5,522.3L911.5,530.3L915.5,530.2L921.5,525.3L930.2,514.9L934.4,508.9L935.0,504.9L932.0,500.9L925.5,499.1L883.5,501.3L871.5,499.3L861.5,495.4L849.5,488.0L844.2,482.9L840.2,474.9L835.1,456.9L831.5,453.0L827.5,451.2L819.5,449.8L809.5,449.9L807.2,450.9L803.7,460.9L801.5,462.9L791.5,462.9L791.5,446.9L801.5,446.9L803.5,444.9L803.4,442.9L801.5,440.3L791.5,440.3L791.5,190.9ZM961.5,506.6L955.4,508.9L954.3,510.9L956.5,514.9L961.5,517.3L965.5,517.6L971.5,516.6L975.5,514.8L979.0,510.9L979.1,508.9L975.5,506.2L969.5,505.6L961.5,506.6ZM1039.5,418.3L1031.5,422.9L1025.2,430.9L1022.7,438.9L1023.5,441.8L1025.5,443.7L1029.5,444.5L1033.5,444.1L1043.3,440.9L1049.0,436.9L1053.3,430.9L1055.2,424.9L1053.5,419.8L1047.5,417.3L1039.5,418.3ZM1139.5,338.9L1135.5,339.5L1131.5,342.7L1130.0,346.9L1130.5,352.9L1132.0,356.9L1135.5,361.3L1139.5,363.1L1145.5,362.8L1149.7,360.9L1153.9,356.9L1155.6,352.9L1155.4,348.9L1152.9,344.9L1149.5,342.3L1145.5,340.3L1139.5,338.9ZM1353.5,298.8L1353.4,300.9L1355.5,302.2L1357.5,302.4L1361.0,300.9L1361.1,298.9L1357.5,297.1L1353.5,298.8ZM1083.5,462.8L1074.5,486.9L1068.6,494.9L1061.5,501.5L1053.5,506.2L1047.5,507.8L1041.5,508.1L1027.5,506.8L1022.0,508.9L1020.8,512.9L1023.0,524.9L1022.7,530.9L1015.4,548.9L1015.4,552.9L1018.0,556.9L1023.5,558.8L1031.0,556.9L1063.5,537.8L1089.5,530.3L1093.5,527.6L1097.5,523.1L1101.5,514.9L1107.5,492.5L1111.5,484.9L1111.2,482.9L1101.2,472.9L1089.5,463.3L1085.5,461.4L1083.5,462.8ZM1141.5,470.9L1129.5,473.6L1120.5,476.9L1112.0,482.9L1111.5,484.9L1121.7,492.9L1131.5,498.1L1141.5,499.9L1151.5,498.4L1157.5,494.5L1161.7,488.9L1164.3,480.9L1163.6,472.9L1161.5,470.6L1157.5,469.2L1151.5,469.2L1141.5,470.9ZM911.5,544.1L909.1,546.9L908.5,550.9L911.4,552.9L913.5,552.8L916.0,550.9L916.4,546.9L915.5,544.9L913.5,543.5L911.5,544.1ZM1243.2,462.9L1245.5,463.1L1245.5,466.4L1243.4,466.9L1242.7,464.9L1243.2,462.9Z"/>
<path fill="#2b7689" fill-rule="evenodd" d="M791.5,190.9L1316.4,190.9L1316.4,210.9L1317.3,216.9L1320.4,220.9L1327.5,222.5L1333.5,220.7L1335.6,218.9L1337.5,215.2L1338.4,208.9L1338.5,190.9L1367.1,190.9L1367.0,204.9L1362.8,222.9L1363.1,228.9L1365.2,232.9L1369.2,236.9L1373.5,239.2L1377.5,239.9L1383.1,238.9L1386.7,236.9L1388.6,234.9L1390.2,230.9L1390.0,222.9L1385.7,204.9L1385.7,190.9L1429.5,190.9L1429.5,242.7L1417.5,242.9L1409.1,244.9L1404.5,248.9L1402.9,256.9L1403.8,264.9L1406.5,274.9L1417.5,298.2L1419.5,300.7L1429.5,300.7L1429.5,380.6L1419.5,380.6L1405.5,383.6L1395.5,382.2L1389.5,378.0L1379.5,363.6L1373.5,357.8L1357.6,348.9L1351.5,347.7L1347.5,348.8L1337.5,356.0L1325.5,360.6L1318.3,364.9L1312.8,370.9L1296.7,394.9L1291.5,400.0L1285.5,403.1L1277.5,404.0L1263.5,402.9L1247.5,403.0L1223.5,400.1L1199.5,401.3L1193.5,399.8L1187.5,396.9L1171.5,384.3L1156.2,374.9L1154.9,372.9L1155.0,370.9L1160.2,362.9L1162.6,356.9L1162.9,350.9L1161.7,346.9L1157.5,341.8L1151.5,337.9L1143.5,334.8L1135.5,333.9L1129.5,336.7L1125.9,342.9L1125.3,350.9L1128.1,364.9L1127.1,368.9L1125.0,370.9L1109.9,378.9L1104.4,382.9L1100.1,388.9L1095.5,399.4L1091.5,404.4L1083.5,407.5L1057.5,408.6L1037.5,412.3L1031.5,415.4L1027.4,418.9L1022.5,424.9L1017.7,432.9L1014.7,440.9L1014.5,446.9L1016.6,450.9L1021.5,453.1L1029.5,452.1L1049.5,446.2L1063.5,439.4L1065.5,439.2L1067.3,440.9L1068.0,444.9L1066.8,460.9L1068.5,474.9L1068.3,480.9L1064.7,488.9L1057.5,495.1L1051.5,497.8L1043.5,499.0L1021.5,495.8L1013.5,495.7L1007.9,496.9L999.5,500.5L985.5,497.7L957.5,496.5L951.5,494.3L940.6,486.9L935.5,485.5L931.5,486.2L917.5,491.9L909.5,493.5L893.5,494.0L881.5,491.9L870.6,486.9L851.4,472.9L847.5,466.5L846.0,450.9L844.6,446.9L842.8,444.9L838.4,442.9L827.5,441.0L822.0,438.9L811.5,428.9L805.5,425.3L801.5,424.3L791.5,424.3L791.5,190.9ZM843.5,228.3L843.5,232.1L845.5,231.8L846.3,228.9L845.5,227.7L843.5,228.3ZM1073.5,332.8L1069.5,335.8L1067.5,340.3L1066.8,346.9L1067.8,352.9L1070.6,358.9L1074.0,362.9L1079.5,366.1L1083.5,365.9L1086.9,362.9L1088.5,358.9L1089.2,352.9L1088.2,344.9L1085.6,338.9L1081.9,334.9L1077.5,332.8L1073.5,332.8ZM1351.5,290.0L1347.0,292.9L1343.2,298.9L1343.4,304.9L1347.5,308.9L1353.5,310.2L1363.5,309.2L1370.0,306.9L1374.5,302.9L1375.2,300.9L1374.1,296.9L1369.5,292.6L1359.5,289.1L1351.5,290.0ZM1150.8,428.9L1155.5,427.0L1159.5,428.4L1163.5,431.7L1167.5,437.1L1169.5,442.9L1169.5,447.1L1167.5,451.8L1163.5,455.1L1157.5,457.2L1141.5,459.6L1127.5,464.3L1119.5,464.9L1113.5,463.9L1107.5,460.9L1103.5,457.4L1100.6,452.9L1099.0,446.9L1099.1,440.9L1101.3,434.9L1103.5,432.5L1107.5,431.5L1111.5,432.8L1116.7,436.9L1127.5,448.6L1133.5,451.5L1137.5,450.3L1139.5,448.3L1147.4,432.9L1150.8,428.9ZM1189.3,466.9L1195.5,466.9L1199.5,468.6L1203.5,472.2L1207.0,476.9L1221.3,508.9L1221.7,514.9L1219.6,524.9L1220.1,528.9L1223.5,532.6L1229.5,534.2L1239.5,532.6L1253.0,522.9L1259.5,519.8L1267.5,517.8L1281.5,516.5L1287.5,514.5L1292.2,510.9L1301.5,500.3L1309.5,496.0L1315.5,495.6L1321.5,496.6L1353.5,508.2L1361.5,510.0L1367.5,510.2L1375.5,508.0L1391.5,498.9L1417.5,486.4L1419.5,485.6L1429.5,485.6L1429.5,586.9L868.6,586.9L868.8,574.9L874.4,568.9L881.5,564.4L887.5,562.6L891.5,562.5L907.5,567.0L913.5,567.8L921.5,565.5L928.8,560.9L932.7,556.9L934.7,552.9L935.2,546.9L933.4,534.9L934.5,530.9L936.4,528.9L941.5,527.7L957.5,530.6L969.5,528.6L983.5,521.8L999.5,508.2L1001.5,508.1L1005.5,511.7L1009.5,517.5L1012.7,524.9L1012.7,532.9L1007.3,546.9L1006.2,554.9L1007.2,558.9L1009.5,562.6L1015.5,566.2L1021.5,566.6L1029.5,564.6L1067.5,546.8L1089.5,540.2L1095.5,537.3L1100.6,532.9L1104.6,526.9L1111.5,506.9L1113.5,504.5L1117.5,502.8L1123.5,503.9L1130.7,506.9L1135.5,510.0L1137.7,512.9L1137.8,516.9L1133.4,528.9L1132.6,534.9L1134.1,540.9L1137.5,545.9L1143.5,550.3L1149.5,552.4L1157.5,552.8L1163.5,551.3L1167.5,548.8L1171.1,544.9L1175.9,534.9L1178.3,518.9L1175.9,498.9L1177.1,484.9L1181.5,472.9L1185.1,468.9L1189.3,466.9ZM791.5,508.9L791.5,508.2L801.5,508.2L807.9,510.9L812.0,514.9L821.5,528.3L827.1,532.9L827.4,534.9L825.5,535.6L817.5,532.1L813.5,531.4L791.5,530.6L791.5,508.9ZM888.9,530.9L891.5,530.9L893.4,532.9L893.3,534.9L891.5,536.8L889.5,536.9L887.3,534.9L887.1,532.9L888.9,530.9Z"/>
<path fill="#358585" fill-rule="evenodd" d="M791.5,190.9L1066.9,190.9L1067.1,204.9L1074.6,214.9L1077.0,220.9L1078.0,238.9L1079.5,244.9L1084.6,250.9L1091.5,253.4L1095.5,252.9L1099.8,248.9L1105.3,236.9L1106.5,228.9L1105.5,223.2L1103.5,219.3L1092.2,208.9L1089.1,204.9L1088.8,190.9L1243.1,190.9L1243.1,202.9L1251.5,203.6L1265.1,202.9L1265.1,190.9L1287.1,190.9L1287.1,202.9L1291.2,208.9L1295.5,229.6L1297.5,233.4L1301.5,237.3L1307.5,238.9L1329.5,234.0L1337.5,233.5L1343.5,234.2L1349.5,236.8L1367.5,250.2L1373.5,252.5L1386.7,254.9L1391.5,258.2L1394.1,262.9L1396.6,272.9L1397.9,286.9L1397.1,300.9L1400.3,308.9L1405.4,314.9L1411.5,318.3L1419.5,320.2L1429.5,320.2L1429.5,375.7L1419.5,375.7L1405.5,379.8L1396.9,378.9L1393.5,377.0L1389.5,373.0L1377.5,356.1L1365.5,345.9L1355.5,340.2L1343.5,338.1L1337.5,340.2L1329.8,348.9L1317.5,356.1L1313.5,359.6L1295.5,386.7L1289.5,392.7L1285.5,394.9L1277.5,396.1L1257.5,393.6L1201.5,394.8L1197.5,393.6L1193.2,390.9L1189.7,386.9L1183.5,376.7L1173.5,367.1L1169.3,348.9L1164.7,340.9L1155.4,334.9L1139.5,329.5L1133.5,329.2L1129.5,330.4L1125.9,332.9L1123.0,336.9L1120.7,346.9L1121.6,362.9L1119.5,367.6L1115.7,370.9L1109.5,374.1L1101.5,376.8L1097.2,376.9L1095.6,372.9L1095.2,346.9L1092.1,334.9L1088.1,328.9L1083.5,325.1L1077.5,322.2L1071.5,321.8L1067.5,323.7L1065.5,325.8L1062.1,332.9L1060.5,344.9L1061.5,356.9L1065.5,368.5L1069.5,375.5L1073.5,380.0L1077.5,381.7L1091.0,382.9L1091.8,384.9L1091.3,388.9L1087.7,394.9L1081.5,396.3L1071.5,393.5L1067.5,393.9L1053.5,401.5L1033.5,408.4L1026.8,412.9L1018.7,422.9L1006.9,442.9L1003.1,452.9L1000.2,464.9L994.5,478.9L990.2,484.9L985.5,488.0L979.5,489.8L973.5,490.4L962.3,488.9L956.1,484.9L949.8,474.9L943.5,473.3L933.5,474.2L927.5,475.7L923.5,477.7L913.9,484.9L909.5,486.6L901.5,487.4L893.5,486.4L889.1,484.9L883.5,481.1L873.9,466.9L863.5,458.9L860.9,454.9L856.5,442.9L853.2,438.9L847.5,436.0L829.5,431.3L817.2,422.9L808.9,418.9L801.5,417.2L791.5,417.2L791.5,190.9ZM841.5,214.8L837.5,216.8L835.5,219.4L833.6,224.9L833.2,230.9L833.9,236.9L835.5,241.0L837.5,243.5L841.5,245.1L845.5,243.9L849.5,240.0L854.0,232.9L855.8,226.9L855.3,222.9L851.5,217.7L847.5,215.4L841.5,214.8ZM1217.5,220.4L1215.4,222.9L1214.4,226.9L1215.5,229.6L1217.5,230.5L1219.5,230.0L1221.5,228.0L1222.9,222.9L1221.5,219.0L1219.5,219.1L1217.5,220.4ZM1349.5,284.6L1342.5,288.9L1336.9,296.9L1331.5,315.3L1328.8,320.9L1328.5,322.9L1329.5,324.4L1331.5,324.0L1337.5,319.0L1341.5,317.8L1369.5,313.8L1381.6,310.9L1389.9,306.9L1393.4,302.9L1393.8,300.9L1391.7,296.9L1387.0,292.9L1379.3,288.9L1369.5,285.3L1361.5,283.5L1355.5,283.3L1349.5,284.6ZM1397.3,190.9L1429.5,190.9L1429.5,236.9L1419.2,236.9L1411.5,235.7L1407.5,233.9L1404.6,230.9L1402.2,224.9L1397.4,204.9L1397.3,190.9ZM1155.2,440.9L1156.2,440.9L1155.5,442.6L1155.2,440.9ZM1041.2,454.9L1047.5,454.3L1051.1,454.9L1056.1,458.9L1058.4,464.9L1059.7,472.9L1059.5,478.9L1058.0,482.9L1055.5,486.0L1051.5,488.6L1043.5,490.5L1031.5,488.9L1021.8,484.9L1017.5,480.9L1015.5,476.9L1015.0,472.9L1016.1,468.9L1019.8,464.9L1026.1,460.9L1041.2,454.9ZM1195.0,482.9L1197.5,483.6L1199.4,486.9L1199.5,489.2L1197.5,492.2L1195.5,492.2L1193.5,491.0L1192.4,488.9L1192.6,484.9L1195.0,482.9ZM1310.8,506.9L1315.5,505.2L1319.5,504.9L1329.5,507.4L1335.7,510.9L1339.9,514.9L1342.8,518.9L1347.5,528.8L1354.9,530.9L1363.5,531.7L1373.5,531.0L1379.5,528.9L1383.9,524.9L1391.0,512.9L1395.5,509.1L1399.5,507.3L1407.5,506.3L1419.5,508.1L1429.5,508.1L1429.5,586.9L1176.8,586.9L1177.1,574.9L1181.6,566.9L1189.5,557.5L1197.5,553.3L1203.5,552.4L1219.5,553.0L1239.5,551.9L1243.5,553.2L1255.5,560.9L1265.5,562.3L1277.5,559.4L1289.5,551.4L1293.5,551.3L1305.5,553.5L1311.5,551.8L1325.5,538.7L1336.0,532.9L1334.9,530.9L1309.5,530.6L1303.2,528.9L1302.3,524.9L1304.1,516.9L1306.9,510.9L1310.8,506.9ZM993.2,528.9L997.5,528.0L999.5,528.8L1000.8,530.9L1000.5,534.9L995.5,543.1L989.5,546.3L987.5,545.6L985.5,543.0L985.0,538.9L987.9,532.9L993.2,528.9ZM1268.1,528.9L1275.5,528.3L1288.5,530.9L1293.6,532.9L1294.5,534.9L1294.2,536.9L1291.5,542.1L1289.5,543.8L1285.5,543.7L1270.7,538.9L1265.5,536.3L1263.9,532.9L1264.8,530.9L1268.1,528.9ZM959.8,550.9L965.5,550.4L985.5,553.5L989.5,556.0L993.5,561.4L1000.6,574.9L1000.8,586.9L956.6,586.9L956.5,574.9L954.4,564.9L954.4,558.9L955.5,554.8L959.8,550.9ZM1089.2,552.9L1099.5,551.7L1107.5,552.1L1113.5,553.8L1133.5,562.9L1155.5,566.0L1161.5,567.8L1167.1,570.9L1171.5,574.9L1171.9,586.9L1022.7,586.9L1022.7,576.9L1023.4,574.9L1027.2,572.9L1045.5,564.6L1065.5,561.0L1081.0,554.9L1089.2,552.9ZM936.5,574.9L938.8,574.9L940.2,576.9L940.2,586.9L934.9,586.9L934.9,576.9L936.5,574.9ZM891.1,576.9L892.1,576.9L892.1,586.9L891.1,586.9L891.1,576.9Z"/>
<path fill="#3f9683" fill-rule="evenodd" d="M791.5,190.9L824.6,190.9L824.7,204.9L826.3,212.9L828.8,240.9L833.0,248.9L835.6,250.9L839.5,252.2L845.5,250.7L849.5,246.9L858.9,232.9L861.9,224.9L861.4,218.9L859.3,214.9L847.2,204.9L846.5,202.9L846.5,190.9L889.3,190.9L889.5,203.1L889.9,190.9L1044.8,190.9L1044.5,224.9L1045.5,232.6L1047.5,237.5L1071.5,256.4L1091.3,266.9L1101.5,277.9L1105.5,279.8L1109.5,278.6L1111.5,275.6L1112.5,270.9L1110.9,252.9L1113.8,232.9L1114.3,222.9L1113.5,213.8L1111.1,204.9L1110.9,190.9L1199.0,190.9L1198.7,204.9L1193.5,210.9L1183.5,216.2L1179.5,219.7L1177.2,224.9L1177.3,230.9L1180.3,238.9L1185.5,245.1L1207.5,258.1L1211.5,259.1L1215.5,257.6L1225.5,248.5L1231.5,240.4L1238.9,224.9L1243.5,220.1L1251.5,216.6L1263.5,215.7L1271.5,217.9L1277.7,222.9L1281.2,230.9L1284.0,248.9L1285.5,251.4L1289.5,254.3L1295.5,255.9L1303.5,255.2L1309.5,252.7L1325.5,243.7L1331.5,242.5L1337.5,242.9L1346.2,246.9L1361.5,259.6L1375.7,266.9L1378.3,268.9L1380.2,272.9L1379.5,275.0L1375.5,276.8L1355.5,276.5L1343.5,280.5L1337.3,284.9L1325.5,300.4L1313.4,310.9L1310.9,314.9L1309.4,320.9L1310.6,340.9L1308.7,348.9L1299.5,368.9L1294.7,376.9L1287.5,384.4L1281.5,386.4L1275.5,385.7L1265.5,381.0L1259.5,379.8L1239.5,385.6L1231.5,387.1L1217.5,387.7L1207.5,385.7L1202.6,380.9L1196.7,366.9L1192.9,362.9L1181.5,354.8L1173.4,340.9L1169.5,336.3L1161.5,332.0L1143.5,326.0L1135.5,324.4L1129.5,324.7L1125.5,326.2L1119.5,331.3L1115.9,340.9L1115.4,360.9L1113.5,364.5L1111.5,366.1L1107.3,366.9L1105.5,366.1L1103.4,362.9L1100.4,336.9L1098.4,330.9L1095.5,325.9L1089.5,319.7L1079.5,313.5L1073.5,311.7L1067.5,312.6L1061.0,318.9L1058.1,324.9L1056.4,330.9L1054.9,358.9L1056.5,380.9L1055.6,386.9L1053.8,390.9L1047.4,396.9L1031.5,403.6L1025.5,407.8L1003.5,437.4L997.5,442.8L987.4,448.9L982.8,452.9L977.8,460.9L980.2,466.9L980.2,472.9L977.5,476.9L975.5,477.2L973.5,475.5L973.3,472.9L977.1,462.9L977.1,460.9L973.6,458.9L965.5,456.9L957.5,457.0L937.5,462.5L931.5,462.8L925.6,460.9L915.5,455.0L909.5,453.0L883.5,450.9L877.5,448.8L873.5,446.3L865.5,435.3L861.5,432.4L837.5,426.9L818.2,416.9L807.5,413.0L801.5,411.8L791.5,411.8L791.5,190.9ZM1003.5,346.8L1001.5,347.3L998.9,350.9L998.8,354.9L999.7,356.9L1001.5,358.0L1005.5,357.0L1008.5,352.9L1008.0,348.9L1003.5,346.8ZM1243.5,292.7L1238.9,294.9L1236.5,298.9L1236.5,302.9L1239.4,308.9L1249.9,318.9L1259.5,331.0L1263.5,332.7L1269.0,330.9L1273.5,325.3L1275.1,318.9L1274.7,312.9L1272.0,306.9L1265.4,300.9L1256.3,294.9L1249.5,292.8L1243.5,292.7ZM1416.9,220.9L1419.5,219.0L1429.5,219.0L1429.5,228.7L1419.5,228.7L1417.0,226.9L1416.0,224.9L1416.9,220.9ZM1362.3,320.9L1379.5,320.2L1407.5,326.3L1429.5,327.4L1429.5,371.0L1419.5,371.0L1409.5,375.0L1403.5,376.2L1399.5,376.0L1395.5,374.3L1391.5,370.5L1381.5,355.3L1373.5,345.8L1365.5,338.4L1352.8,328.9L1352.1,326.9L1353.5,324.2L1362.3,320.9ZM1040.8,462.9L1044.7,462.9L1047.5,464.5L1049.2,466.9L1050.0,470.9L1049.3,474.9L1047.5,477.6L1045.5,479.1L1041.5,480.0L1035.5,478.6L1033.2,476.9L1031.5,472.9L1033.9,466.9L1040.8,462.9ZM1418.3,530.9L1429.5,530.6L1429.5,586.9L1397.3,586.9L1397.0,574.9L1393.1,570.9L1387.5,569.0L1381.5,569.7L1376.6,572.9L1375.4,574.9L1375.3,586.9L1331.1,586.9L1331.3,574.9L1333.8,570.9L1338.3,566.9L1343.5,564.9L1363.5,561.1L1373.5,554.0L1377.5,552.3L1381.5,552.0L1391.5,554.3L1395.5,554.0L1399.5,550.9L1411.4,534.9L1418.3,530.9ZM1091.4,572.9L1095.5,571.3L1099.5,571.1L1105.5,572.3L1110.4,574.9L1110.9,586.9L1088.9,586.9L1089.2,574.9L1091.4,572.9ZM1199.5,574.9L1201.5,574.3L1204.5,574.9L1205.1,586.9L1199.1,586.9L1199.5,574.9ZM1266.9,574.9L1283.2,574.9L1287.2,576.9L1287.2,586.9L1265.1,586.9L1265.1,576.9L1266.9,574.9ZM979.4,576.9L979.5,586.9L979.4,576.9ZM1045.1,576.9L1047.1,576.9L1047.1,586.9L1045.1,586.9L1045.1,576.9ZM1294.7,576.9L1303.5,575.0L1309.1,576.9L1309.1,586.9L1294.7,586.9L1294.7,576.9Z"/>
<path fill="#46a47f" fill-rule="evenodd" d="M866.0,190.9L868.2,190.9L868.2,202.9L867.5,204.6L866.0,202.9L866.0,190.9ZM904.1,190.9L1022.8,190.9L1023.2,204.9L1031.5,215.0L1033.7,220.9L1034.5,228.9L1032.0,238.9L1029.5,242.8L1023.1,248.9L1022.2,250.9L1022.8,252.9L1047.5,267.7L1053.5,268.7L1067.5,267.9L1081.5,271.7L1087.5,275.6L1097.5,286.9L1101.5,289.4L1105.5,290.1L1109.5,289.0L1112.2,286.9L1115.5,282.3L1117.5,276.9L1118.7,266.9L1118.7,242.9L1120.7,222.9L1122.2,216.9L1125.0,210.9L1127.5,207.9L1131.9,204.9L1133.0,202.9L1133.0,190.9L1154.9,190.9L1154.9,202.9L1162.6,212.9L1171.8,242.9L1177.5,253.7L1187.8,266.9L1190.2,272.9L1190.4,276.9L1188.6,282.9L1177.9,298.9L1176.2,302.9L1175.6,310.9L1177.5,317.3L1181.5,317.0L1199.5,308.9L1205.2,304.9L1215.5,294.6L1219.5,293.0L1221.5,293.3L1223.5,295.1L1227.7,306.9L1230.9,312.9L1241.8,322.9L1245.5,327.9L1253.7,348.9L1254.2,352.9L1244.6,368.9L1237.5,376.3L1227.5,380.1L1221.5,380.4L1217.5,379.5L1211.5,375.4L1199.5,355.4L1186.4,342.9L1182.7,336.9L1177.5,325.1L1175.5,323.1L1159.5,324.9L1139.5,319.9L1131.5,318.9L1123.5,320.0L1113.5,323.7L1109.5,324.2L1105.5,322.0L1093.5,311.8L1081.5,303.8L1075.5,301.0L1069.5,300.0L1065.5,301.3L1060.0,306.9L1055.5,314.5L1052.2,322.9L1048.5,350.9L1045.1,366.9L1045.2,382.9L1043.5,388.5L1039.1,392.9L1029.5,398.1L1023.5,402.8L1005.5,428.4L1001.5,432.4L995.5,436.1L977.5,440.6L959.5,448.2L945.5,450.5L937.5,450.7L931.5,449.0L907.2,436.9L904.7,432.9L902.3,416.9L899.5,413.1L895.5,410.9L889.5,410.3L881.5,411.8L873.0,414.9L859.5,422.0L849.5,423.5L839.5,421.6L821.5,413.5L803.5,407.0L791.5,406.8L791.5,202.9L801.5,202.9L814.9,212.9L817.9,216.9L820.4,222.9L823.5,242.9L825.6,248.9L831.5,255.3L837.5,257.8L841.5,258.0L847.5,255.1L851.5,250.4L865.8,228.9L871.5,214.7L873.1,212.9L891.5,212.3L897.5,210.5L902.4,206.9L904.1,202.9L904.1,190.9ZM995.5,334.5L991.5,337.4L988.7,342.9L987.2,352.9L987.4,360.9L988.5,364.9L991.5,369.1L995.5,370.9L1001.5,370.9L1009.5,367.7L1018.0,360.9L1022.5,354.9L1023.2,348.9L1019.2,342.9L1010.3,336.9L1001.5,333.8L995.5,334.5ZM1257.1,226.9L1261.5,226.9L1265.2,228.9L1266.4,230.9L1266.3,234.9L1261.5,240.4L1255.5,243.3L1251.5,243.9L1249.0,240.9L1248.6,236.9L1249.4,232.9L1252.6,228.9L1257.1,226.9ZM1243.2,252.9L1247.5,251.9L1249.5,253.1L1258.1,262.9L1264.8,274.9L1264.8,278.9L1263.5,280.9L1257.5,283.2L1243.5,283.3L1235.5,282.1L1231.5,278.9L1230.6,272.9L1232.4,264.9L1237.5,257.1L1243.2,252.9ZM1331.4,252.9L1335.5,253.5L1340.5,256.9L1343.6,262.9L1343.1,266.9L1339.7,270.9L1321.5,283.4L1315.5,285.3L1311.5,284.0L1309.5,281.6L1308.9,278.9L1311.1,272.9L1323.5,256.9L1327.5,254.1L1331.4,252.9ZM1288.9,322.9L1291.5,322.4L1293.5,324.0L1295.7,328.9L1296.9,338.9L1296.0,350.9L1293.5,360.9L1289.5,368.7L1285.5,371.9L1281.5,372.3L1277.5,370.6L1273.0,366.9L1263.0,356.9L1260.6,352.9L1263.5,348.9L1277.5,337.9L1288.9,322.9ZM1380.9,330.9L1429.5,332.9L1429.5,366.2L1419.5,366.2L1409.0,370.9L1403.5,372.3L1399.5,371.9L1395.5,369.8L1390.2,362.9L1377.2,338.9L1376.1,334.9L1376.5,332.9L1380.9,330.9Z"/>
<path fill="#50b07e" fill-rule="evenodd" d="M912.7,190.9L947.8,190.9L948.0,204.9L951.5,208.7L957.5,210.2L964.9,208.9L969.5,204.9L969.7,190.9L1000.8,190.9L1000.7,204.9L999.2,208.9L995.7,212.9L983.5,221.5L971.5,240.7L967.5,244.6L958.2,250.9L956.7,252.9L956.7,254.9L960.5,258.9L965.5,260.5L999.5,260.0L1011.5,262.5L1023.5,266.3L1033.2,272.9L1041.5,283.2L1049.5,290.4L1051.5,293.8L1052.2,296.9L1051.5,302.9L1046.2,318.9L1042.4,334.9L1039.6,340.9L1037.5,342.2L1033.5,341.4L1009.5,327.9L1001.5,324.5L993.5,323.5L977.5,324.1L967.5,317.6L963.5,316.1L959.5,316.4L956.8,318.9L956.3,322.9L958.9,326.9L973.5,332.0L976.7,336.9L978.7,346.9L978.7,370.9L981.5,377.4L987.5,379.4L1001.5,378.4L1009.5,376.6L1025.5,370.6L1029.5,372.4L1030.9,374.9L1031.6,380.9L1030.3,384.9L1021.5,395.9L1007.9,418.9L1001.5,426.4L993.5,430.9L975.5,433.7L957.5,439.9L951.5,440.2L947.4,438.9L943.6,434.9L940.2,422.9L937.5,419.2L921.5,410.9L914.9,402.9L912.7,396.9L912.8,392.9L917.5,381.1L918.2,376.9L917.0,372.9L913.5,371.2L907.5,372.2L904.2,374.9L902.0,380.9L901.5,390.9L899.2,394.9L896.7,396.9L884.9,402.9L851.5,416.8L845.5,417.1L839.5,415.7L803.5,401.8L791.5,401.4L791.5,214.4L803.5,214.8L809.5,218.5L813.2,222.9L815.5,228.0L818.0,246.9L820.4,252.9L824.1,256.9L831.5,261.4L837.5,263.3L843.5,263.2L849.5,259.5L863.5,238.5L877.5,222.8L883.5,220.0L903.5,216.0L909.0,212.9L911.5,208.9L912.6,204.9L912.7,190.9ZM923.5,226.9L920.8,230.9L913.3,250.9L912.6,254.9L913.5,259.3L915.5,259.6L922.4,250.9L933.5,242.9L935.7,238.9L935.9,232.9L933.5,227.1L929.5,225.1L923.5,226.9ZM1136.6,214.9L1141.5,214.5L1147.5,215.9L1151.5,218.1L1156.0,222.9L1160.1,230.9L1176.8,272.9L1177.0,276.9L1175.5,281.2L1163.4,296.9L1158.4,310.9L1156.9,312.9L1153.5,314.7L1117.5,311.4L1112.5,308.9L1109.9,304.9L1110.7,300.9L1119.1,286.9L1122.2,276.9L1125.0,256.9L1124.9,234.9L1126.0,226.9L1129.9,218.9L1133.5,216.0L1136.6,214.9ZM1013.3,222.9L1017.5,221.2L1021.1,222.9L1022.9,226.9L1021.5,230.6L1019.5,231.6L1015.5,230.9L1012.7,226.9L1013.3,222.9ZM1206.7,320.9L1213.5,321.0L1225.5,326.4L1231.5,330.1L1235.5,335.4L1237.1,344.9L1236.1,358.9L1232.5,366.9L1227.5,370.7L1221.5,371.2L1215.5,367.0L1197.5,334.9L1196.5,330.9L1197.5,326.3L1201.0,322.9L1206.7,320.9ZM1394.4,338.9L1403.5,338.0L1429.5,338.5L1429.5,360.8L1419.5,360.8L1407.5,366.6L1403.5,367.6L1397.5,366.0L1391.5,357.5L1388.1,346.9L1389.5,341.6L1394.4,338.9Z"/>
<path fill="#66c170" fill-rule="evenodd" d="M925.6,190.9L934.6,190.9L934.2,204.9L931.5,206.6L929.5,206.7L926.2,204.9L925.6,190.9ZM951.4,220.9L959.5,219.8L963.5,220.8L966.3,222.9L967.7,226.9L966.8,230.9L961.5,236.9L955.5,238.6L951.5,237.3L949.2,234.9L947.6,230.9L947.4,226.9L948.9,222.9L951.4,220.9ZM791.5,224.9L791.5,223.0L801.5,223.0L803.5,223.5L807.5,227.5L809.9,234.9L810.5,252.9L814.6,258.9L819.5,262.1L829.5,266.5L841.5,269.3L847.5,268.1L851.3,264.9L863.5,243.6L869.5,237.0L879.5,229.0L885.5,226.1L891.5,224.8L898.0,224.9L903.4,226.9L905.1,228.9L905.9,232.9L901.8,248.9L901.4,256.9L911.1,298.9L903.4,306.9L902.0,312.9L903.3,316.9L906.0,320.9L911.5,324.2L915.8,322.9L917.2,320.9L918.2,316.9L917.4,310.9L912.1,298.9L915.5,295.1L919.5,287.8L927.2,266.9L930.1,262.9L933.5,260.4L937.5,259.6L941.5,260.5L955.5,269.4L961.5,271.5L967.5,271.9L987.5,270.5L1005.5,271.4L1015.5,273.0L1022.8,276.9L1025.4,280.9L1026.4,286.9L1023.1,298.9L1023.2,302.9L1025.5,306.0L1031.5,309.7L1034.0,314.9L1033.4,320.9L1029.8,324.9L1023.5,324.5L1009.5,316.6L985.5,311.5L969.5,303.0L961.5,300.6L955.5,300.9L949.5,303.6L944.7,308.9L943.0,314.9L943.6,324.9L946.8,332.9L951.5,337.4L963.5,343.5L967.9,348.9L969.0,356.9L965.3,380.9L966.4,388.9L968.4,392.9L971.5,394.9L975.5,395.1L991.5,387.7L1001.5,385.4L1009.5,386.3L1012.8,388.9L1013.7,394.9L1011.4,402.9L1006.8,412.9L1001.5,420.1L995.5,424.4L989.5,426.1L971.5,426.5L963.5,425.4L959.8,422.9L955.5,414.8L951.5,410.4L935.5,404.0L931.5,401.5L928.0,396.9L927.3,390.9L934.2,372.9L934.7,366.9L931.5,361.4L925.5,359.4L909.5,360.8L901.5,362.9L895.5,365.6L890.7,370.9L888.3,386.9L886.8,390.9L883.5,394.9L873.5,400.8L849.5,409.1L841.5,409.5L827.5,406.8L815.5,402.4L801.5,394.1L791.5,394.1L791.5,371.0L801.7,370.9L803.5,369.6L804.9,366.9L806.1,360.9L805.5,354.4L803.5,349.0L801.5,347.8L791.5,347.8L791.5,224.9ZM819.5,310.5L813.5,314.7L810.2,320.9L808.8,330.9L809.5,335.4L811.5,338.5L819.5,340.7L837.5,340.2L841.5,341.0L845.2,344.9L850.5,354.9L855.5,357.5L861.5,357.7L867.5,356.7L871.7,354.9L875.5,351.1L878.4,342.9L880.0,328.9L879.1,320.9L876.0,316.9L871.5,315.6L867.5,316.0L851.5,323.9L847.5,324.6L845.5,323.8L836.1,314.9L831.5,311.9L825.5,310.0L819.5,310.5ZM1136.7,224.9L1139.5,224.1L1144.4,224.9L1147.7,226.9L1151.5,231.3L1159.5,250.2L1162.4,260.9L1163.4,268.9L1161.8,276.9L1148.1,300.9L1143.5,304.4L1135.5,305.8L1129.5,304.8L1125.7,302.9L1124.0,300.9L1123.1,296.9L1127.5,274.0L1133.0,252.9L1131.8,232.9L1133.5,227.8L1136.7,224.9ZM1405.4,344.9L1413.5,345.8L1419.5,348.1L1429.5,348.1L1429.5,351.1L1419.5,351.1L1408.8,358.9L1405.5,360.4L1401.5,360.6L1397.5,357.1L1396.1,350.9L1398.2,346.9L1405.4,344.9ZM1220.3,348.9L1221.5,348.1L1222.1,348.9L1221.5,352.1L1220.3,348.9Z"/>
<path fill="#84cc62" fill-rule="evenodd" d="M882.9,234.9L889.5,234.3L891.5,235.2L893.6,238.9L894.1,252.9L897.8,270.9L898.5,278.9L896.4,286.9L891.5,292.4L885.5,295.2L871.5,299.3L857.3,306.9L849.5,309.2L845.5,308.6L833.5,303.2L823.5,300.5L811.5,299.6L791.5,300.7L791.5,276.9L801.5,276.9L809.5,272.3L817.5,271.1L825.5,272.1L843.5,276.8L847.5,276.8L851.5,275.6L855.5,270.6L860.5,254.9L865.5,246.4L873.5,239.3L882.9,234.9ZM1145.3,262.9L1147.5,264.2L1149.1,268.9L1149.0,274.9L1147.6,280.9L1145.0,286.9L1141.5,291.7L1139.5,293.2L1135.5,294.1L1133.3,292.9L1131.6,288.9L1131.7,282.9L1133.5,275.2L1135.5,270.9L1139.5,265.8L1143.5,263.1L1145.3,262.9ZM936.3,274.9L939.5,274.0L941.5,274.5L946.1,278.9L946.4,282.9L943.5,286.3L939.5,287.5L935.5,285.6L934.3,282.9L934.2,278.9L936.3,274.9ZM992.4,284.9L999.5,285.4L1003.1,286.9L1004.8,288.9L1005.0,294.9L1001.5,300.2L997.5,301.4L993.5,300.7L989.5,298.5L986.1,294.9L984.4,290.9L984.6,288.9L987.5,286.2L992.4,284.9ZM892.8,336.9L897.5,335.5L906.8,338.9L912.8,342.9L913.8,344.9L913.3,346.9L909.5,349.8L903.5,351.7L897.5,352.2L893.5,351.2L891.2,348.9L890.2,344.9L890.7,340.9L892.8,336.9ZM820.0,372.9L825.5,370.9L829.5,371.6L835.5,375.1L841.9,380.9L846.7,386.9L847.9,390.9L846.2,394.9L842.7,398.9L835.5,401.8L827.5,401.8L819.5,399.3L813.2,394.9L810.6,390.9L810.0,384.9L813.5,378.3L820.0,372.9ZM862.4,372.9L867.5,371.1L871.5,371.5L874.1,372.9L876.9,376.9L877.9,382.9L877.0,386.9L874.3,390.9L869.5,393.9L865.5,394.7L859.5,394.2L855.5,392.5L852.1,388.9L852.9,384.9L856.2,378.9L862.4,372.9ZM995.3,394.9L1001.5,394.5L1003.5,395.8L1004.8,398.9L1003.6,406.9L1000.3,412.9L996.1,416.9L991.5,419.0L983.5,419.1L978.3,416.9L976.3,412.9L978.1,408.9L987.5,399.9L995.3,394.9Z"/>
<path fill="#abd95d" fill-rule="evenodd" d="M874.5,244.9L877.5,244.1L881.5,244.4L884.6,246.9L886.5,250.9L891.0,272.9L889.8,278.9L885.5,282.5L879.5,282.9L873.5,280.7L867.5,275.8L863.9,268.9L863.4,260.9L865.5,253.3L869.5,248.0L874.5,244.9ZM822.8,384.9L825.5,384.2L829.5,386.0L831.4,388.9L830.6,392.9L827.5,394.4L822.4,392.9L820.4,388.9L822.8,384.9Z"/>
<path fill="#d3e070" fill-rule="evenodd" d="M872.8,254.9L875.5,254.1L877.5,255.0L878.7,256.9L879.5,262.1L877.5,265.6L873.5,265.1L871.5,262.9L870.8,258.9L872.8,254.9Z"/></g></g>
<g clip-path="url(#clipR)"><polygon points="997.5,336.5 999.0,333.5 1002.0,332.0 1005.0,332.2 1004.5,334.0 1001.0,335.5 998.5,337.0" fill="#98b7e2"/>
<polygon points="1009.0,334.0 1013.0,333.0 1019.0,334.5 1021.5,337.0 1022.0,341.0 1020.0,345.0 1017.0,347.8 1013.0,346.0 1010.0,341.0 1008.5,337.0" fill="#98b7e2"/>
<polygon points="791.5,257.0 795.6,257.5 795.8,262.5 791.5,262.5" fill="#98b7e2"/>
<polygon points="803.5,268.5 806.0,266.6 810.0,266.8 812.7,270.0 812.5,273.6 808.0,273.4 804.5,271.0" fill="#98b7e2"/>
<polygon points="838.2,273.0 840.0,271.3 843.5,271.5 845.0,274.0 848.5,276.0 852.0,277.5 852.0,282.8 847.0,282.8 844.5,278.5 840.5,276.5 838.2,275.0" fill="#98b7e2"/>
<polygon points="893.2,288.5 895.0,287.0 898.0,287.2 898.8,290.0 897.0,291.6 894.0,291.0" fill="#98b7e2"/>
<polygon points="901.5,286.0 903.5,283.0 906.5,282.8 908.0,285.5 907.0,289.0 904.0,289.8 902.0,288.5" fill="#98b7e2"/>
<polygon points="921.4,294.4 923.2,293.0 925.1,294.4 923.2,295.8" fill="#98b7e2"/>
<polygon points="874.7,284.2 877.0,283.8 877.0,285.0 874.7,285.0" fill="#98b7e2"/>
<polygon points="940.7,317.0 943.0,315.9 944.6,317.0 943.0,318.1" fill="#98b7e2"/>
<polygon points="1037.11,353.11 1039.75,354.75 1043.06,356.61 1047.02,358.24 1049.88,360.11 1052.97,362.90 1054.07,365.70 1056.27,367.79 1060.02,370.58 1059.14,372.90 1055.83,374.99 1051.43,376.84 1048.12,377.54 1044.82,379.62 1042.17,382.64 1040.85,384.72 1038.65,382.64 1036.45,380.78 1035.57,376.84 1035.57,373.36 1034.68,369.88 1032.70,365.70 1034.24,363.60 1036.01,361.74 1037.55,358.71 1036.45,355.91" fill="#d2b48c" stroke="#000" stroke-width="2.0" stroke-linejoin="round"/>
<polygon points="1018.60,337.68 1019.71,335.57 1021.69,336.04 1023.45,338.38 1026.53,337.21 1029.40,337.68 1033.80,340.72 1034.24,342.60 1032.70,344.23 1029.40,344.94 1026.09,345.87 1024.33,345.40 1023.89,342.36 1023.23,340.96 1021.69,340.96 1019.49,340.02" fill="#d2b48c" stroke="#000" stroke-width="2.0" stroke-linejoin="round"/>
<polygon points="1018.38,346.57 1021.03,345.40 1021.91,347.04 1020.15,347.74" fill="#d2b48c" stroke="#000" stroke-width="2.0" stroke-linejoin="round"/>
<polygon points="1010.67,340.72 1012.88,337.68 1015.08,338.38 1016.18,340.72 1014.42,342.36 1011.78,342.36" fill="#d2b48c" stroke="#000" stroke-width="2.0" stroke-linejoin="round"/>
<polygon points="1004.95,333.69 1006.05,330.87 1008.47,331.34 1011.78,331.81 1014.42,332.05 1017.94,332.05 1018.16,333.69 1013.98,334.86 1009.57,334.16" fill="#d2b48c" stroke="#000" stroke-width="2.0" stroke-linejoin="round"/>
<polygon points="983.58,322.41 986.88,319.58 990.41,319.35 993.05,323.11 995.70,325.47 997.46,328.76 995.92,329.93 993.05,328.99 989.75,328.99 987.33,328.99 986.88,327.82 984.68,325.23" fill="#d2b48c" stroke="#000" stroke-width="2.0" stroke-linejoin="round"/>
<polygon points="950.54,311.32 951.86,308.72 954.94,307.07 958.91,307.07 961.11,310.14 960.45,313.21 957.81,315.57 954.50,314.86 951.86,313.21" fill="#d2b48c" stroke="#000" stroke-width="2.0" stroke-linejoin="round"/>
<polygon points="940.19,317.22 941.29,314.86 943.49,312.50 944.59,312.98 943.49,315.34 941.73,317.70" fill="#d2b48c" stroke="#000" stroke-width="2.0" stroke-linejoin="round"/>
<circle cx="807.30" cy="268.00" r="1.1" fill="#1a1a1a"/>
<circle cx="808.60" cy="269.80" r="1.0" fill="#1a1a1a"/>
<circle cx="809.60" cy="271.00" r="0.9" fill="#1a1a1a"/>
<circle cx="841.90" cy="275.00" r="0.9" fill="#1a1a1a"/>
<circle cx="902.90" cy="287.00" r="0.9" fill="#1a1a1a"/>
<path d="M933.2,318.9l1.3,1.3l-1.3,1.3l-1.3,-1.3z" fill="none" stroke="#333" stroke-width="0.6"/></g>
<g clip-path="url(#clipR)"><circle cx="825.30" cy="402.20" r="6.05" fill="#1f77b4" stroke="#000" stroke-width="1.65"/>
<polygon points="895.40,427.15 890.16,430.18 890.16,436.22 895.40,439.25 900.64,436.22 900.64,430.18" fill="#3a88c2" stroke="#000" stroke-width="1.65" stroke-linejoin="miter"/>
<polygon points="957.70,322.65 951.95,326.83 954.14,333.59 961.26,333.59 963.45,326.83" fill="#5ca3da" stroke="#000" stroke-width="1.65" stroke-linejoin="miter"/>
<circle cx="1150.30" cy="466.20" r="6.05" fill="#8cc3ec" stroke="#000" stroke-width="1.65"/>
<polygon points="961.90,404.55 956.15,408.73 958.34,415.49 965.46,415.49 967.65,408.73" fill="#ff7f0e" stroke="#000" stroke-width="1.65" stroke-linejoin="miter"/>
<circle cx="845.40" cy="235.30" r="6.05" fill="#ff9436" stroke="#000" stroke-width="1.65"/>
<polygon points="1177.00,359.55 1171.76,362.58 1171.76,368.62 1177.00,371.65 1182.24,368.62 1182.24,362.58" fill="#ffac68" stroke="#000" stroke-width="1.65" stroke-linejoin="miter"/>
<polygon points="1174.90,357.95 1169.15,362.13 1171.34,368.89 1178.46,368.89 1180.65,362.13" fill="#ffc797" stroke="#000" stroke-width="1.65" stroke-linejoin="miter"/>
<circle cx="1071.20" cy="572.30" r="6.05" fill="#ffdfc4" stroke="#000" stroke-width="1.65"/>
<polygon points="1007.30,432.15 1002.06,435.18 1002.06,441.22 1007.30,444.25 1012.54,441.22 1012.54,435.18" fill="#2ca02c" stroke="#000" stroke-width="1.65" stroke-linejoin="miter"/>
<polygon points="1143.90,506.85 1138.15,511.03 1140.34,517.79 1147.46,517.79 1149.65,511.03" fill="#4cb84a" stroke="#000" stroke-width="1.65" stroke-linejoin="miter"/>
<circle cx="1306.30" cy="424.30" r="6.05" fill="#6fcc6c" stroke="#000" stroke-width="1.65"/>
<polygon points="971.50,524.35 966.26,527.38 966.26,533.42 971.50,536.45 976.74,533.42 976.74,527.38" fill="#9ee39a" stroke="#000" stroke-width="1.65" stroke-linejoin="miter"/>
<polygon points="1265.90,248.65 1260.15,252.83 1262.34,259.59 1269.46,259.59 1271.65,252.83" fill="#cbf7c6" stroke="#000" stroke-width="1.65" stroke-linejoin="miter"/>
<circle cx="1075.30" cy="381.20" r="6.05" fill="#d62728" stroke="#000" stroke-width="1.65"/>
<polygon points="1200.50,328.25 1195.26,331.28 1195.26,337.32 1200.50,340.35 1205.74,337.32 1205.74,331.28" fill="#e04445" stroke="#000" stroke-width="1.65" stroke-linejoin="miter"/>
<polygon points="1269.90,532.85 1264.15,537.03 1266.34,543.79 1273.46,543.79 1275.65,537.03" fill="#ea6b6b" stroke="#000" stroke-width="1.65" stroke-linejoin="miter"/>
<circle cx="1208.50" cy="589.70" r="6.05" fill="#f39898" stroke="#000" stroke-width="1.65"/>
<polygon points="1250.40,562.25 1245.16,565.27 1245.16,571.32 1250.40,574.35 1255.64,571.32 1255.64,565.27" fill="#fbc8c8" stroke="#000" stroke-width="1.65" stroke-linejoin="miter"/>
<polygon points="1420.80,195.45 1415.05,199.63 1417.24,206.39 1424.36,206.39 1426.55,199.63" fill="#9467bd" stroke="#000" stroke-width="1.65" stroke-linejoin="miter"/>
<circle cx="1351.30" cy="289.60" r="6.05" fill="#a67ed0" stroke="#000" stroke-width="1.65"/>
<polygon points="1178.40,199.25 1173.16,202.28 1173.16,208.33 1178.40,211.35 1183.64,208.33 1183.64,202.28" fill="#b893e0" stroke="#000" stroke-width="1.65" stroke-linejoin="miter"/>
<polygon points="1285.00,307.95 1279.25,312.13 1281.44,318.89 1288.56,318.89 1290.75,312.13" fill="#cbabef" stroke="#000" stroke-width="1.65" stroke-linejoin="miter"/>
<circle cx="1166.40" cy="277.50" r="6.05" fill="#dfc6fb" stroke="#000" stroke-width="1.65"/>
<polygon points="1143.50,291.15 1138.26,294.18 1138.26,300.22 1143.50,303.25 1148.74,300.22 1148.74,294.18" fill="#8c564b" stroke="#000" stroke-width="1.65" stroke-linejoin="miter"/>
<polygon points="1046.90,229.45 1041.15,233.63 1043.34,240.39 1050.46,240.39 1052.65,233.63" fill="#a56b5f" stroke="#000" stroke-width="1.65" stroke-linejoin="miter"/>
<circle cx="957.30" cy="302.10" r="6.05" fill="#c48a7e" stroke="#000" stroke-width="1.65"/></g>
<rect x="791.5" y="178.5" width="638.8" height="407.9" fill="none" stroke="#000" stroke-width="1.25"/>
<g stroke="#000"><line x1="791.50" y1="178.5" x2="791.50" y2="174.7" stroke-width="1.4"/><line x1="791.50" y1="586.4" x2="791.50" y2="590.1999999999999" stroke-width="1.4"/><line x1="813.53" y1="178.5" x2="813.53" y2="174.7" stroke-width="1.4"/><line x1="813.53" y1="586.4" x2="813.53" y2="590.1999999999999" stroke-width="1.4"/><line x1="835.56" y1="178.5" x2="835.56" y2="170.0" stroke-width="3.0"/><line x1="835.56" y1="586.4" x2="835.56" y2="594.9" stroke-width="3.0"/><line x1="857.58" y1="178.5" x2="857.58" y2="174.7" stroke-width="1.4"/><line x1="857.58" y1="586.4" x2="857.58" y2="590.1999999999999" stroke-width="1.4"/><line x1="879.61" y1="178.5" x2="879.61" y2="174.7" stroke-width="1.4"/><line x1="879.61" y1="586.4" x2="879.61" y2="590.1999999999999" stroke-width="1.4"/><line x1="901.64" y1="178.5" x2="901.64" y2="170.0" stroke-width="3.0"/><line x1="901.64" y1="586.4" x2="901.64" y2="594.9" stroke-width="3.0"/><line x1="923.67" y1="178.5" x2="923.67" y2="174.7" stroke-width="1.4"/><line x1="923.67" y1="586.4" x2="923.67" y2="590.1999999999999" stroke-width="1.4"/><line x1="945.69" y1="178.5" x2="945.69" y2="174.7" stroke-width="1.4"/><line x1="945.69" y1="586.4" x2="945.69" y2="590.1999999999999" stroke-width="1.4"/><line x1="967.72" y1="178.5" x2="967.72" y2="170.0" stroke-width="3.0"/><line x1="967.72" y1="586.4" x2="967.72" y2="594.9" stroke-width="3.0"/><line x1="989.75" y1="178.5" x2="989.75" y2="174.7" stroke-width="1.4"/><line x1="989.75" y1="586.4" x2="989.75" y2="590.1999999999999" stroke-width="1.4"/><line x1="1011.78" y1="178.5" x2="1011.78" y2="174.7" stroke-width="1.4"/><line x1="1011.78" y1="586.4" x2="1011.78" y2="590.1999999999999" stroke-width="1.4"/><line x1="1033.80" y1="178.5" x2="1033.80" y2="170.0" stroke-width="3.0"/><line x1="1033.80" y1="586.4" x2="1033.80" y2="594.9" stroke-width="3.0"/><line x1="1055.83" y1="178.5" x2="1055.83" y2="174.7" stroke-width="1.4"/><line x1="1055.83" y1="586.4" x2="1055.83" y2="590.1999999999999" stroke-width="1.4"/><line x1="1077.86" y1="178.5" x2="1077.86" y2="174.7" stroke-width="1.4"/><line x1="1077.86" y1="586.4" x2="1077.86" y2="590.1999999999999" stroke-width="1.4"/><line x1="1099.89" y1="178.5" x2="1099.89" y2="170.0" stroke-width="3.0"/><line x1="1099.89" y1="586.4" x2="1099.89" y2="594.9" stroke-width="3.0"/><line x1="1121.91" y1="178.5" x2="1121.91" y2="174.7" stroke-width="1.4"/><line x1="1121.91" y1="586.4" x2="1121.91" y2="590.1999999999999" stroke-width="1.4"/><line x1="1143.94" y1="178.5" x2="1143.94" y2="174.7" stroke-width="1.4"/><line x1="1143.94" y1="586.4" x2="1143.94" y2="590.1999999999999" stroke-width="1.4"/><line x1="1165.97" y1="178.5" x2="1165.97" y2="170.0" stroke-width="3.0"/><line x1="1165.97" y1="586.4" x2="1165.97" y2="594.9" stroke-width="3.0"/><line x1="1188.00" y1="178.5" x2="1188.00" y2="174.7" stroke-width="1.4"/><line x1="1188.00" y1="586.4" x2="1188.00" y2="590.1999999999999" stroke-width="1.4"/><line x1="1210.02" y1="178.5" x2="1210.02" y2="174.7" stroke-width="1.4"/><line x1="1210.02" y1="586.4" x2="1210.02" y2="590.1999999999999" stroke-width="1.4"/><line x1="1232.05" y1="178.5" x2="1232.05" y2="170.0" stroke-width="3.0"/><line x1="1232.05" y1="586.4" x2="1232.05" y2="594.9" stroke-width="3.0"/><line x1="1254.08" y1="178.5" x2="1254.08" y2="174.7" stroke-width="1.4"/><line x1="1254.08" y1="586.4" x2="1254.08" y2="590.1999999999999" stroke-width="1.4"/><line x1="1276.11" y1="178.5" x2="1276.11" y2="174.7" stroke-width="1.4"/><line x1="1276.11" y1="586.4" x2="1276.11" y2="590.1999999999999" stroke-width="1.4"/><line x1="1298.13" y1="178.5" x2="1298.13" y2="170.0" stroke-width="3.0"/><line x1="1298.13" y1="586.4" x2="1298.13" y2="594.9" stroke-width="3.0"/><line x1="1320.16" y1="178.5" x2="1320.16" y2="174.7" stroke-width="1.4"/><line x1="1320.16" y1="586.4" x2="1320.16" y2="590.1999999999999" stroke-width="1.4"/><line x1="1342.19" y1="178.5" x2="1342.19" y2="174.7" stroke-width="1.4"/><line x1="1342.19" y1="586.4" x2="1342.19" y2="590.1999999999999" stroke-width="1.4"/><line x1="1364.22" y1="178.5" x2="1364.22" y2="170.0" stroke-width="3.0"/><line x1="1364.22" y1="586.4" x2="1364.22" y2="594.9" stroke-width="3.0"/><line x1="1386.24" y1="178.5" x2="1386.24" y2="174.7" stroke-width="1.4"/><line x1="1386.24" y1="586.4" x2="1386.24" y2="590.1999999999999" stroke-width="1.4"/><line x1="1408.27" y1="178.5" x2="1408.27" y2="174.7" stroke-width="1.4"/><line x1="1408.27" y1="586.4" x2="1408.27" y2="590.1999999999999" stroke-width="1.4"/><line x1="1430.30" y1="178.5" x2="1430.30" y2="170.0" stroke-width="3.0"/><line x1="1430.30" y1="586.4" x2="1430.30" y2="594.9" stroke-width="3.0"/><line x1="791.5" y1="586.40" x2="787.7" y2="586.40" stroke-width="1.4"/><line x1="1430.3" y1="586.40" x2="1434.1" y2="586.40" stroke-width="1.4"/><line x1="791.5" y1="564.13" x2="787.7" y2="564.13" stroke-width="1.4"/><line x1="1430.3" y1="564.13" x2="1434.1" y2="564.13" stroke-width="1.4"/><line x1="791.5" y1="541.79" x2="783.0" y2="541.79" stroke-width="3.0"/><line x1="1430.3" y1="541.79" x2="1438.8" y2="541.79" stroke-width="3.0"/><line x1="791.5" y1="519.37" x2="787.7" y2="519.37" stroke-width="1.4"/><line x1="1430.3" y1="519.37" x2="1434.1" y2="519.37" stroke-width="1.4"/><line x1="791.5" y1="496.85" x2="787.7" y2="496.85" stroke-width="1.4"/><line x1="1430.3" y1="496.85" x2="1434.1" y2="496.85" stroke-width="1.4"/><line x1="791.5" y1="474.23" x2="783.0" y2="474.23" stroke-width="3.0"/><line x1="1430.3" y1="474.23" x2="1438.8" y2="474.23" stroke-width="3.0"/><line x1="791.5" y1="451.51" x2="787.7" y2="451.51" stroke-width="1.4"/><line x1="1430.3" y1="451.51" x2="1434.1" y2="451.51" stroke-width="1.4"/><line x1="791.5" y1="428.68" x2="787.7" y2="428.68" stroke-width="1.4"/><line x1="1430.3" y1="428.68" x2="1434.1" y2="428.68" stroke-width="1.4"/><line x1="791.5" y1="405.72" x2="783.0" y2="405.72" stroke-width="3.0"/><line x1="1430.3" y1="405.72" x2="1438.8" y2="405.72" stroke-width="3.0"/><line x1="791.5" y1="382.64" x2="787.7" y2="382.64" stroke-width="1.4"/><line x1="1430.3" y1="382.64" x2="1434.1" y2="382.64" stroke-width="1.4"/><line x1="791.5" y1="359.41" x2="787.7" y2="359.41" stroke-width="1.4"/><line x1="1430.3" y1="359.41" x2="1434.1" y2="359.41" stroke-width="1.4"/><line x1="791.5" y1="336.04" x2="783.0" y2="336.04" stroke-width="3.0"/><line x1="1430.3" y1="336.04" x2="1438.8" y2="336.04" stroke-width="3.0"/><line x1="791.5" y1="312.50" x2="787.7" y2="312.50" stroke-width="1.4"/><line x1="1430.3" y1="312.50" x2="1434.1" y2="312.50" stroke-width="1.4"/><line x1="791.5" y1="288.81" x2="787.7" y2="288.81" stroke-width="1.4"/><line x1="1430.3" y1="288.81" x2="1434.1" y2="288.81" stroke-width="1.4"/><line x1="791.5" y1="264.93" x2="783.0" y2="264.93" stroke-width="3.0"/><line x1="1430.3" y1="264.93" x2="1438.8" y2="264.93" stroke-width="3.0"/><line x1="791.5" y1="240.87" x2="787.7" y2="240.87" stroke-width="1.4"/><line x1="1430.3" y1="240.87" x2="1434.1" y2="240.87" stroke-width="1.4"/><line x1="791.5" y1="216.61" x2="787.7" y2="216.61" stroke-width="1.4"/><line x1="1430.3" y1="216.61" x2="1434.1" y2="216.61" stroke-width="1.4"/><line x1="791.5" y1="192.15" x2="783.0" y2="192.15" stroke-width="3.0"/><line x1="1430.3" y1="192.15" x2="1438.8" y2="192.15" stroke-width="3.0"/></g>
<g font-family="'DejaVu Sans', 'Liberation Sans', sans-serif" font-size="22.6"><text x="835.56" y="620.3" text-anchor="middle">165°W</text><text x="901.64" y="620.3" text-anchor="middle">162°W</text><text x="967.72" y="620.3" text-anchor="middle">159°W</text><text x="1033.80" y="620.3" text-anchor="middle">156°W</text><text x="1099.89" y="620.3" text-anchor="middle">153°W</text><text x="1165.97" y="620.3" text-anchor="middle">150°W</text><text x="1232.05" y="620.3" text-anchor="middle">147°W</text><text x="1298.13" y="620.3" text-anchor="middle">144°W</text><text x="1364.22" y="620.3" text-anchor="middle">141°W</text><text x="1430.30" y="620.3" text-anchor="middle">138°W</text><text x="1445.7" y="550.94">12°N</text><text x="1445.7" y="483.38">15°N</text><text x="1445.7" y="414.87">18°N</text><text x="1445.7" y="345.19">21°N</text><text x="1445.7" y="274.08">24°N</text><text x="1445.7" y="201.30">27°N</text></g>
<polygon points="175.5,647.0 117.4,654.75 175.5,662.5" fill="#2a1a66"/>
<polygon points="1339.0,647.0 1396.8,654.75 1339.0,662.5" fill="#fbe99a"/>
<rect x="175.50" y="647.0" width="83.71" height="15.5" fill="#2d1b78"/>
<rect x="258.61" y="647.0" width="83.71" height="15.5" fill="#2b27a2"/>
<rect x="341.71" y="647.0" width="83.71" height="15.5" fill="#1a4596"/>
<rect x="424.82" y="647.0" width="83.71" height="15.5" fill="#13578f"/>
<rect x="507.93" y="647.0" width="83.71" height="15.5" fill="#1d6889"/>
<rect x="591.04" y="647.0" width="83.71" height="15.5" fill="#2b7689"/>
<rect x="674.14" y="647.0" width="83.71" height="15.5" fill="#358585"/>
<rect x="757.25" y="647.0" width="83.71" height="15.5" fill="#3f9683"/>
<rect x="840.36" y="647.0" width="83.71" height="15.5" fill="#46a47f"/>
<rect x="923.46" y="647.0" width="83.71" height="15.5" fill="#50b07e"/>
<rect x="1006.57" y="647.0" width="83.71" height="15.5" fill="#66c170"/>
<rect x="1089.68" y="647.0" width="83.71" height="15.5" fill="#84cc62"/>
<rect x="1172.79" y="647.0" width="83.71" height="15.5" fill="#abd95d"/>
<rect x="1255.89" y="647.0" width="83.71" height="15.5" fill="#d3e070"/>
<polygon points="175.5,647.0 117.4,654.75 175.5,662.5 1339.0,662.5 1396.8,654.75 1339.0,647.0" fill="none" stroke="#000" stroke-width="1.25"/>
<g stroke="#000" stroke-width="1.2"><line x1="175.50" y1="662.5" x2="175.50" y2="669.0"/><line x1="341.71" y1="662.5" x2="341.71" y2="669.0"/><line x1="507.93" y1="662.5" x2="507.93" y2="669.0"/><line x1="674.14" y1="662.5" x2="674.14" y2="669.0"/><line x1="840.36" y1="662.5" x2="840.36" y2="669.0"/><line x1="1006.57" y1="662.5" x2="1006.57" y2="669.0"/><line x1="1172.79" y1="662.5" x2="1172.79" y2="669.0"/><line x1="1339.00" y1="662.5" x2="1339.00" y2="669.0"/></g>
<g font-family="'DejaVu Sans', 'Liberation Sans', sans-serif" font-size="20.83"><text x="175.50" y="692.1" text-anchor="middle">34.0</text><text x="341.71" y="692.1" text-anchor="middle">34.2</text><text x="507.93" y="692.1" text-anchor="middle">34.4</text><text x="674.14" y="692.1" text-anchor="middle">34.6</text><text x="840.36" y="692.1" text-anchor="middle">34.8</text><text x="1006.57" y="692.1" text-anchor="middle">35.0</text><text x="1172.79" y="692.1" text-anchor="middle">35.2</text><text x="1339.00" y="692.1" text-anchor="middle">35.4</text></g>
<text x="757.5" y="718.8" font-family="'DejaVu Sans', 'Liberation Sans', sans-serif" font-weight="bold" font-size="20.83" text-anchor="middle">Salinity (psu)</text>
<text x="756.2" y="745.6" font-family="'DejaVu Sans', 'Liberation Sans', sans-serif" font-weight="bold" font-style="italic" font-size="15.7" text-anchor="middle">Glider/Argo Search Window: 2025-03-05 21:00:00 to 2025-03-06 06:00:00</text>
<rect x="186.6" y="772.2" width="1141.6" height="87.2" rx="4" ry="4" fill="#fff" fill-opacity="0.8" stroke="#cccccc" stroke-width="1.6"/>
<circle cx="206.30" cy="784.10" r="6.05" fill="#1f77b4" stroke="#000" stroke-width="1.65"/><text x="231.60" y="789.40" font-family="'DejaVu Sans', 'Liberation Sans', sans-serif" font-size="14.2">2903863</text><polygon points="206.30,799.00 201.06,802.03 201.06,808.08 206.30,811.10 211.54,808.08 211.54,802.03" fill="#3a88c2" stroke="#000" stroke-width="1.65" stroke-linejoin="miter"/><text x="231.60" y="810.35" font-family="'DejaVu Sans', 'Liberation Sans', sans-serif" font-size="14.2">3902373</text><polygon points="206.30,819.95 200.55,824.13 202.74,830.89 209.86,830.89 212.05,824.13" fill="#5ca3da" stroke="#000" stroke-width="1.65" stroke-linejoin="miter"/><text x="231.60" y="831.30" font-family="'DejaVu Sans', 'Liberation Sans', sans-serif" font-size="14.2">3902559</text><circle cx="206.30" cy="846.95" r="6.05" fill="#8cc3ec" stroke="#000" stroke-width="1.65"/><text x="231.60" y="852.25" font-family="'DejaVu Sans', 'Liberation Sans', sans-serif" font-size="14.2">3902561</text><polygon points="335.05,778.05 329.81,781.08 329.81,787.12 335.05,790.15 340.29,787.12 340.29,781.08" fill="#c5e3fa" stroke="#000" stroke-width="1.65" stroke-linejoin="miter"/><text x="360.35" y="789.40" font-family="'DejaVu Sans', 'Liberation Sans', sans-serif" font-size="14.2">4903032</text><polygon points="335.05,799.00 329.30,803.18 331.49,809.94 338.61,809.94 340.80,803.18" fill="#ff7f0e" stroke="#000" stroke-width="1.65" stroke-linejoin="miter"/><text x="360.35" y="810.35" font-family="'DejaVu Sans', 'Liberation Sans', sans-serif" font-size="14.2">4903379</text><circle cx="335.05" cy="826.00" r="6.05" fill="#ff9436" stroke="#000" stroke-width="1.65"/><text x="360.35" y="831.30" font-family="'DejaVu Sans', 'Liberation Sans', sans-serif" font-size="14.2">4903507</text><polygon points="463.80,778.05 458.56,781.08 458.56,787.12 463.80,790.15 469.04,787.12 469.04,781.08" fill="#ffac68" stroke="#000" stroke-width="1.65" stroke-linejoin="miter"/><text x="489.10" y="789.40" font-family="'DejaVu Sans', 'Liberation Sans', sans-serif" font-size="14.2">5905272</text><polygon points="463.80,799.00 458.05,803.18 460.24,809.94 467.36,809.94 469.55,803.18" fill="#ffc797" stroke="#000" stroke-width="1.65" stroke-linejoin="miter"/><text x="489.10" y="810.35" font-family="'DejaVu Sans', 'Liberation Sans', sans-serif" font-size="14.2">5905732</text><circle cx="463.80" cy="826.00" r="6.05" fill="#ffdfc4" stroke="#000" stroke-width="1.65"/><text x="489.10" y="831.30" font-family="'DejaVu Sans', 'Liberation Sans', sans-serif" font-size="14.2">5905746</text><polygon points="592.55,778.05 587.31,781.08 587.31,787.12 592.55,790.15 597.79,787.12 597.79,781.08" fill="#2ca02c" stroke="#000" stroke-width="1.65" stroke-linejoin="miter"/><text x="617.85" y="789.40" font-family="'DejaVu Sans', 'Liberation Sans', sans-serif" font-size="14.2">5905853</text><polygon points="592.55,799.00 586.80,803.18 588.99,809.94 596.11,809.94 598.30,803.18" fill="#4cb84a" stroke="#000" stroke-width="1.65" stroke-linejoin="miter"/><text x="617.85" y="810.35" font-family="'DejaVu Sans', 'Liberation Sans', sans-serif" font-size="14.2">5905854</text><circle cx="592.55" cy="826.00" r="6.05" fill="#6fcc6c" stroke="#000" stroke-width="1.65"/><text x="617.85" y="831.30" font-family="'DejaVu Sans', 'Liberation Sans', sans-serif" font-size="14.2">5906016</text><polygon points="721.30,778.05 716.06,781.08 716.06,787.12 721.30,790.15 726.54,787.12 726.54,781.08" fill="#9ee39a" stroke="#000" stroke-width="1.65" stroke-linejoin="miter"/><text x="746.60" y="789.40" font-family="'DejaVu Sans', 'Liberation Sans', sans-serif" font-size="14.2">5906095</text><polygon points="721.30,799.00 715.55,803.18 717.74,809.94 724.86,809.94 727.05,803.18" fill="#cbf7c6" stroke="#000" stroke-width="1.65" stroke-linejoin="miter"/><text x="746.60" y="810.35" font-family="'DejaVu Sans', 'Liberation Sans', sans-serif" font-size="14.2">5906156</text><circle cx="721.30" cy="826.00" r="6.05" fill="#d62728" stroke="#000" stroke-width="1.65"/><text x="746.60" y="831.30" font-family="'DejaVu Sans', 'Liberation Sans', sans-serif" font-size="14.2">5906470</text><polygon points="850.05,778.05 844.81,781.08 844.81,787.12 850.05,790.15 855.29,787.12 855.29,781.08" fill="#e04445" stroke="#000" stroke-width="1.65" stroke-linejoin="miter"/><text x="875.35" y="789.40" font-family="'DejaVu Sans', 'Liberation Sans', sans-serif" font-size="14.2">5906529</text><polygon points="850.05,799.00 844.30,803.18 846.49,809.94 853.61,809.94 855.80,803.18" fill="#ea6b6b" stroke="#000" stroke-width="1.65" stroke-linejoin="miter"/><text x="875.35" y="810.35" font-family="'DejaVu Sans', 'Liberation Sans', sans-serif" font-size="14.2">5906753</text><circle cx="850.05" cy="826.00" r="6.05" fill="#f39898" stroke="#000" stroke-width="1.65"/><text x="875.35" y="831.30" font-family="'DejaVu Sans', 'Liberation Sans', sans-serif" font-size="14.2">5906755</text><polygon points="978.80,778.05 973.56,781.08 973.56,787.12 978.80,790.15 984.04,787.12 984.04,781.08" fill="#fbc8c8" stroke="#000" stroke-width="1.65" stroke-linejoin="miter"/><text x="1004.10" y="789.40" font-family="'DejaVu Sans', 'Liberation Sans', sans-serif" font-size="14.2">5906756</text><polygon points="978.80,799.00 973.05,803.18 975.24,809.94 982.36,809.94 984.55,803.18" fill="#9467bd" stroke="#000" stroke-width="1.65" stroke-linejoin="miter"/><text x="1004.10" y="810.35" font-family="'DejaVu Sans', 'Liberation Sans', sans-serif" font-size="14.2">5906796</text><circle cx="978.80" cy="826.00" r="6.05" fill="#a67ed0" stroke="#000" stroke-width="1.65"/><text x="1004.10" y="831.30" font-family="'DejaVu Sans', 'Liberation Sans', sans-serif" font-size="14.2">5906811</text><polygon points="1107.55,778.05 1102.31,781.08 1102.31,787.12 1107.55,790.15 1112.79,787.12 1112.79,781.08" fill="#b893e0" stroke="#000" stroke-width="1.65" stroke-linejoin="miter"/><text x="1132.85" y="789.40" font-family="'DejaVu Sans', 'Liberation Sans', sans-serif" font-size="14.2">5906812</text><polygon points="1107.55,799.00 1101.80,803.18 1103.99,809.94 1111.11,809.94 1113.30,803.18" fill="#cbabef" stroke="#000" stroke-width="1.65" stroke-linejoin="miter"/><text x="1132.85" y="810.35" font-family="'DejaVu Sans', 'Liberation Sans', sans-serif" font-size="14.2">5906814</text><circle cx="1107.55" cy="826.00" r="6.05" fill="#dfc6fb" stroke="#000" stroke-width="1.65"/><text x="1132.85" y="831.30" font-family="'DejaVu Sans', 'Liberation Sans', sans-serif" font-size="14.2">5906815</text><polygon points="1236.30,778.05 1231.06,781.08 1231.06,787.12 1236.30,790.15 1241.54,787.12 1241.54,781.08" fill="#8c564b" stroke="#000" stroke-width="1.65" stroke-linejoin="miter"/><text x="1261.60" y="789.40" font-family="'DejaVu Sans', 'Liberation Sans', sans-serif" font-size="14.2">5907061</text><polygon points="1236.30,799.00 1230.55,803.18 1232.74,809.94 1239.86,809.94 1242.05,803.18" fill="#a56b5f" stroke="#000" stroke-width="1.65" stroke-linejoin="miter"/><text x="1261.60" y="810.35" font-family="'DejaVu Sans', 'Liberation Sans', sans-serif" font-size="14.2">7900877</text><circle cx="1236.30" cy="826.00" r="6.05" fill="#c48a7e" stroke="#000" stroke-width="1.65"/><text x="1261.60" y="831.30" font-family="'DejaVu Sans', 'Liberation Sans', sans-serif" font-size="14.2">7901106</text>
</svg></body></html>
